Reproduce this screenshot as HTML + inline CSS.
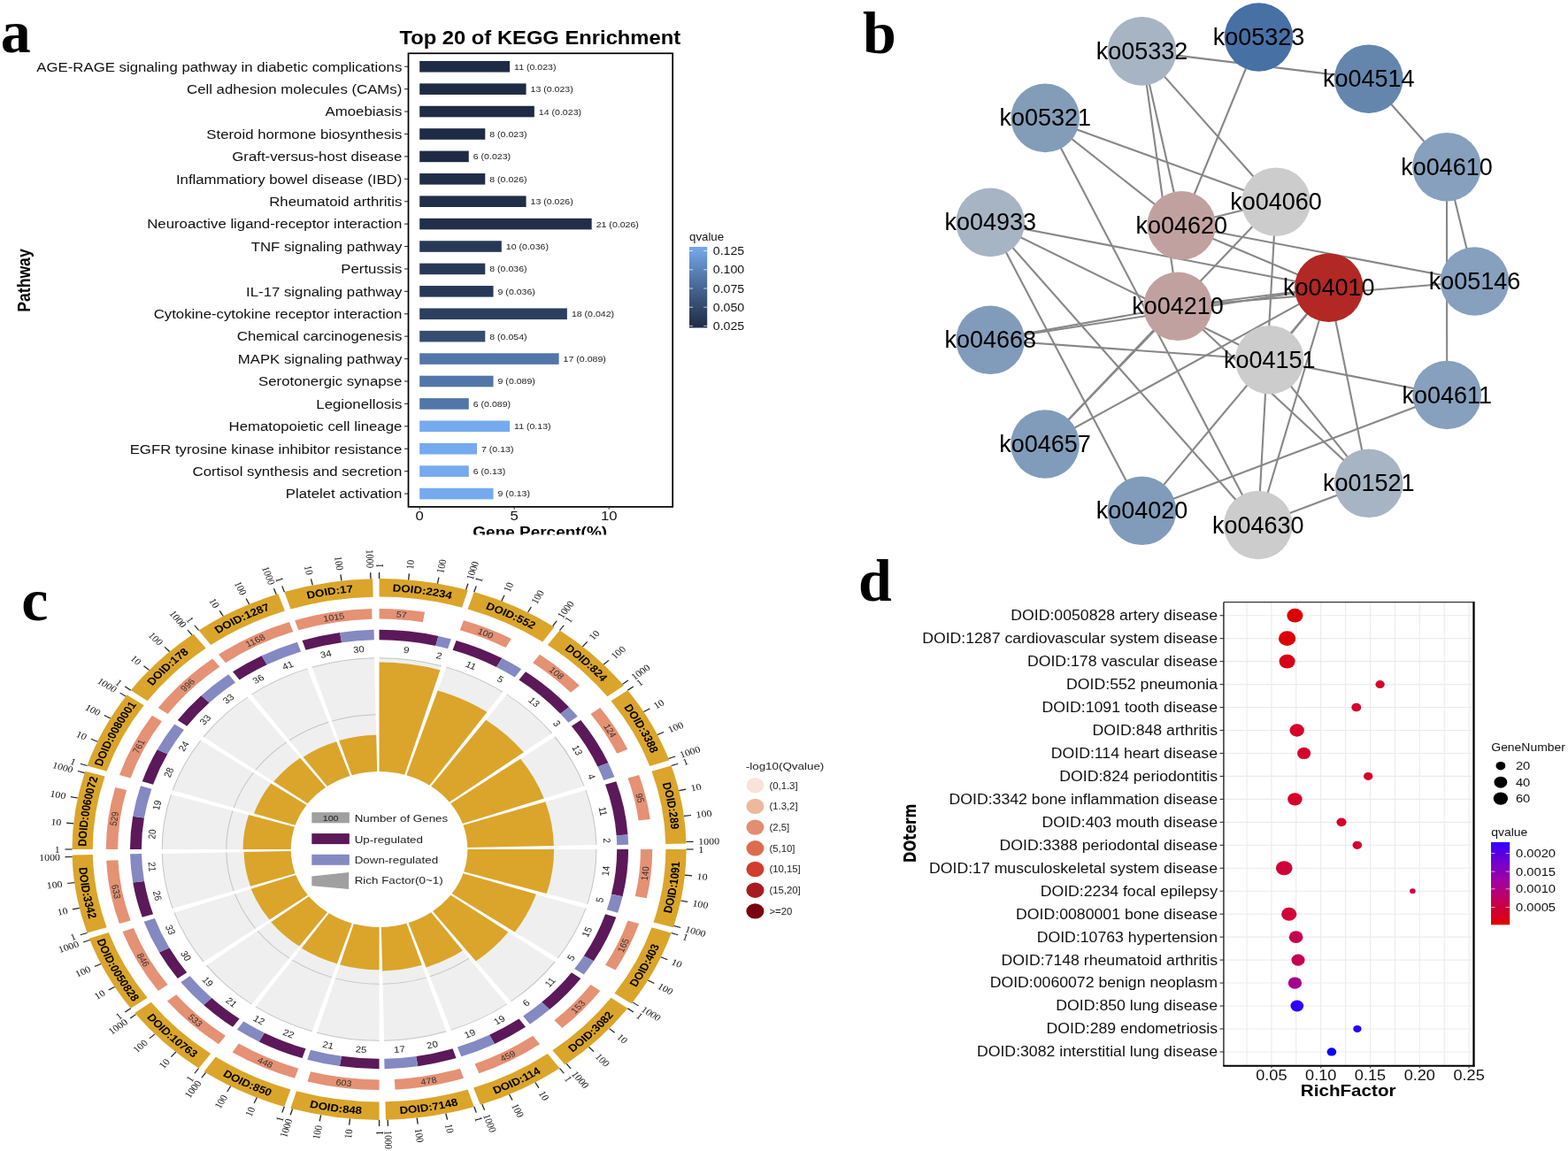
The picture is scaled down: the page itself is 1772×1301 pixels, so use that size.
<!DOCTYPE html>
<html><head><meta charset="utf-8"><title>Figure</title>
<style>html,body{margin:0;padding:0;background:#fff;}svg{display:block;}</style></head>
<body><svg width="1772" height="1301" viewBox="0 0 1772 1301">
<rect width="1772" height="1301" fill="#fff"/>
<text transform="translate(0.8,58.8)" font-size="68" text-anchor="start" font-weight="bold" fill="#000" font-family="'Liberation Serif', 'Times New Roman', serif">a</text>
<text transform="translate(975,59.6)" font-size="68" text-anchor="start" font-weight="bold" fill="#000" font-family="'Liberation Serif', 'Times New Roman', serif">b</text>
<text transform="translate(24.3,701)" font-size="68" text-anchor="start" font-weight="bold" fill="#000" font-family="'Liberation Serif', 'Times New Roman', serif">c</text>
<text transform="translate(970,678.8)" font-size="68" text-anchor="start" font-weight="bold" fill="#000" font-family="'Liberation Serif', 'Times New Roman', serif">d</text>
<text transform="translate(610.3,50.1) scale(1.09,1)" font-size="21.8" text-anchor="middle" font-weight="bold" fill="#000" font-family="'Liberation Sans', Arial, Helvetica, sans-serif">Top 20 of KEGG Enrichment</text>
<rect x="474.2" y="68.95" width="101.86" height="12.6" fill="#1f2b44"/>
<text transform="translate(581.06,78.7) scale(1.08,1)" font-size="9.8" text-anchor="start" fill="#222" font-family="'Liberation Sans', Arial, Helvetica, sans-serif">11 (0.023)</text>
<text transform="translate(454.3,80.55) scale(1.09,1)" font-size="15.4" text-anchor="end" fill="#111" font-family="'Liberation Sans', Arial, Helvetica, sans-serif">AGE-RAGE signaling pathway in diabetic complications</text>
<line x1="457" y1="75.25" x2="461.5" y2="75.25" stroke="#333" stroke-width="1.1"/>
<rect x="474.2" y="94.36" width="120.38" height="12.6" fill="#1f2b44"/>
<text transform="translate(599.58,104.11) scale(1.08,1)" font-size="9.8" text-anchor="start" fill="#222" font-family="'Liberation Sans', Arial, Helvetica, sans-serif">13 (0.023)</text>
<text transform="translate(454.3,105.96) scale(1.09,1)" font-size="15.4" text-anchor="end" fill="#111" font-family="'Liberation Sans', Arial, Helvetica, sans-serif">Cell adhesion molecules (CAMs)</text>
<line x1="457" y1="100.66" x2="461.5" y2="100.66" stroke="#333" stroke-width="1.1"/>
<rect x="474.2" y="119.77" width="129.64" height="12.6" fill="#1f2b44"/>
<text transform="translate(608.84,129.52) scale(1.08,1)" font-size="9.8" text-anchor="start" fill="#222" font-family="'Liberation Sans', Arial, Helvetica, sans-serif">14 (0.023)</text>
<text transform="translate(454.3,131.37) scale(1.09,1)" font-size="15.4" text-anchor="end" fill="#111" font-family="'Liberation Sans', Arial, Helvetica, sans-serif">Amoebiasis</text>
<line x1="457" y1="126.07" x2="461.5" y2="126.07" stroke="#333" stroke-width="1.1"/>
<rect x="474.2" y="145.18" width="74.08" height="12.6" fill="#1f2b44"/>
<text transform="translate(553.28,154.93) scale(1.08,1)" font-size="9.8" text-anchor="start" fill="#222" font-family="'Liberation Sans', Arial, Helvetica, sans-serif">8 (0.023)</text>
<text transform="translate(454.3,156.78) scale(1.09,1)" font-size="15.4" text-anchor="end" fill="#111" font-family="'Liberation Sans', Arial, Helvetica, sans-serif">Steroid hormone biosynthesis</text>
<line x1="457" y1="151.48" x2="461.5" y2="151.48" stroke="#333" stroke-width="1.1"/>
<rect x="474.2" y="170.59" width="55.56" height="12.6" fill="#1f2b44"/>
<text transform="translate(534.76,180.34) scale(1.08,1)" font-size="9.8" text-anchor="start" fill="#222" font-family="'Liberation Sans', Arial, Helvetica, sans-serif">6 (0.023)</text>
<text transform="translate(454.3,182.19) scale(1.09,1)" font-size="15.4" text-anchor="end" fill="#111" font-family="'Liberation Sans', Arial, Helvetica, sans-serif">Graft-versus-host disease</text>
<line x1="457" y1="176.89" x2="461.5" y2="176.89" stroke="#333" stroke-width="1.1"/>
<rect x="474.2" y="196" width="74.08" height="12.6" fill="#212e48"/>
<text transform="translate(553.28,205.75) scale(1.08,1)" font-size="9.8" text-anchor="start" fill="#222" font-family="'Liberation Sans', Arial, Helvetica, sans-serif">8 (0.026)</text>
<text transform="translate(454.3,207.6) scale(1.09,1)" font-size="15.4" text-anchor="end" fill="#111" font-family="'Liberation Sans', Arial, Helvetica, sans-serif">Inflammatiory bowel disease (IBD)</text>
<line x1="457" y1="202.3" x2="461.5" y2="202.3" stroke="#333" stroke-width="1.1"/>
<rect x="474.2" y="221.41" width="120.38" height="12.6" fill="#212e48"/>
<text transform="translate(599.58,231.16) scale(1.08,1)" font-size="9.8" text-anchor="start" fill="#222" font-family="'Liberation Sans', Arial, Helvetica, sans-serif">13 (0.026)</text>
<text transform="translate(454.3,233.01) scale(1.09,1)" font-size="15.4" text-anchor="end" fill="#111" font-family="'Liberation Sans', Arial, Helvetica, sans-serif">Rheumatoid arthritis</text>
<line x1="457" y1="227.71" x2="461.5" y2="227.71" stroke="#333" stroke-width="1.1"/>
<rect x="474.2" y="246.82" width="194.46" height="12.6" fill="#212e48"/>
<text transform="translate(673.66,256.57) scale(1.08,1)" font-size="9.8" text-anchor="start" fill="#222" font-family="'Liberation Sans', Arial, Helvetica, sans-serif">21 (0.026)</text>
<text transform="translate(454.3,258.42) scale(1.09,1)" font-size="15.4" text-anchor="end" fill="#111" font-family="'Liberation Sans', Arial, Helvetica, sans-serif">Neuroactive ligand-receptor interaction</text>
<line x1="457" y1="253.12" x2="461.5" y2="253.12" stroke="#333" stroke-width="1.1"/>
<rect x="474.2" y="272.23" width="92.6" height="12.6" fill="#283957"/>
<text transform="translate(571.8,281.98) scale(1.08,1)" font-size="9.8" text-anchor="start" fill="#222" font-family="'Liberation Sans', Arial, Helvetica, sans-serif">10 (0.036)</text>
<text transform="translate(454.3,283.83) scale(1.09,1)" font-size="15.4" text-anchor="end" fill="#111" font-family="'Liberation Sans', Arial, Helvetica, sans-serif">TNF signaling pathway</text>
<line x1="457" y1="278.53" x2="461.5" y2="278.53" stroke="#333" stroke-width="1.1"/>
<rect x="474.2" y="297.64" width="74.08" height="12.6" fill="#283957"/>
<text transform="translate(553.28,307.39) scale(1.08,1)" font-size="9.8" text-anchor="start" fill="#222" font-family="'Liberation Sans', Arial, Helvetica, sans-serif">8 (0.036)</text>
<text transform="translate(454.3,309.24) scale(1.09,1)" font-size="15.4" text-anchor="end" fill="#111" font-family="'Liberation Sans', Arial, Helvetica, sans-serif">Pertussis</text>
<line x1="457" y1="303.94" x2="461.5" y2="303.94" stroke="#333" stroke-width="1.1"/>
<rect x="474.2" y="323.05" width="83.34" height="12.6" fill="#283957"/>
<text transform="translate(562.54,332.8) scale(1.08,1)" font-size="9.8" text-anchor="start" fill="#222" font-family="'Liberation Sans', Arial, Helvetica, sans-serif">9 (0.036)</text>
<text transform="translate(454.3,334.65) scale(1.09,1)" font-size="15.4" text-anchor="end" fill="#111" font-family="'Liberation Sans', Arial, Helvetica, sans-serif">IL-17 signaling pathway</text>
<line x1="457" y1="329.35" x2="461.5" y2="329.35" stroke="#333" stroke-width="1.1"/>
<rect x="474.2" y="348.46" width="166.68" height="12.6" fill="#2d3f5f"/>
<text transform="translate(645.88,358.21) scale(1.08,1)" font-size="9.8" text-anchor="start" fill="#222" font-family="'Liberation Sans', Arial, Helvetica, sans-serif">18 (0.042)</text>
<text transform="translate(454.3,360.06) scale(1.09,1)" font-size="15.4" text-anchor="end" fill="#111" font-family="'Liberation Sans', Arial, Helvetica, sans-serif">Cytokine-cytokine receptor interaction</text>
<line x1="457" y1="354.76" x2="461.5" y2="354.76" stroke="#333" stroke-width="1.1"/>
<rect x="474.2" y="373.87" width="74.08" height="12.6" fill="#364d71"/>
<text transform="translate(553.28,383.62) scale(1.08,1)" font-size="9.8" text-anchor="start" fill="#222" font-family="'Liberation Sans', Arial, Helvetica, sans-serif">8 (0.054)</text>
<text transform="translate(454.3,385.47) scale(1.09,1)" font-size="15.4" text-anchor="end" fill="#111" font-family="'Liberation Sans', Arial, Helvetica, sans-serif">Chemical carcinogenesis</text>
<line x1="457" y1="380.17" x2="461.5" y2="380.17" stroke="#333" stroke-width="1.1"/>
<rect x="474.2" y="399.28" width="157.42" height="12.6" fill="#5276a9"/>
<text transform="translate(636.62,409.03) scale(1.08,1)" font-size="9.8" text-anchor="start" fill="#222" font-family="'Liberation Sans', Arial, Helvetica, sans-serif">17 (0.089)</text>
<text transform="translate(454.3,410.88) scale(1.09,1)" font-size="15.4" text-anchor="end" fill="#111" font-family="'Liberation Sans', Arial, Helvetica, sans-serif">MAPK signaling pathway</text>
<line x1="457" y1="405.58" x2="461.5" y2="405.58" stroke="#333" stroke-width="1.1"/>
<rect x="474.2" y="424.69" width="83.34" height="12.6" fill="#5276a9"/>
<text transform="translate(562.54,434.44) scale(1.08,1)" font-size="9.8" text-anchor="start" fill="#222" font-family="'Liberation Sans', Arial, Helvetica, sans-serif">9 (0.089)</text>
<text transform="translate(454.3,436.29) scale(1.09,1)" font-size="15.4" text-anchor="end" fill="#111" font-family="'Liberation Sans', Arial, Helvetica, sans-serif">Serotonergic synapse</text>
<line x1="457" y1="430.99" x2="461.5" y2="430.99" stroke="#333" stroke-width="1.1"/>
<rect x="474.2" y="450.1" width="55.56" height="12.6" fill="#5276a9"/>
<text transform="translate(534.76,459.85) scale(1.08,1)" font-size="9.8" text-anchor="start" fill="#222" font-family="'Liberation Sans', Arial, Helvetica, sans-serif">6 (0.089)</text>
<text transform="translate(454.3,461.7) scale(1.09,1)" font-size="15.4" text-anchor="end" fill="#111" font-family="'Liberation Sans', Arial, Helvetica, sans-serif">Legionellosis</text>
<line x1="457" y1="456.4" x2="461.5" y2="456.4" stroke="#333" stroke-width="1.1"/>
<rect x="474.2" y="475.51" width="101.86" height="12.6" fill="#75aaee"/>
<text transform="translate(581.06,485.26) scale(1.08,1)" font-size="9.8" text-anchor="start" fill="#222" font-family="'Liberation Sans', Arial, Helvetica, sans-serif">11 (0.13)</text>
<text transform="translate(454.3,487.11) scale(1.09,1)" font-size="15.4" text-anchor="end" fill="#111" font-family="'Liberation Sans', Arial, Helvetica, sans-serif">Hematopoietic cell lineage</text>
<line x1="457" y1="481.81" x2="461.5" y2="481.81" stroke="#333" stroke-width="1.1"/>
<rect x="474.2" y="500.92" width="64.82" height="12.6" fill="#75aaee"/>
<text transform="translate(544.02,510.67) scale(1.08,1)" font-size="9.8" text-anchor="start" fill="#222" font-family="'Liberation Sans', Arial, Helvetica, sans-serif">7 (0.13)</text>
<text transform="translate(454.3,512.52) scale(1.09,1)" font-size="15.4" text-anchor="end" fill="#111" font-family="'Liberation Sans', Arial, Helvetica, sans-serif">EGFR tyrosine kinase inhibitor resistance</text>
<line x1="457" y1="507.22" x2="461.5" y2="507.22" stroke="#333" stroke-width="1.1"/>
<rect x="474.2" y="526.33" width="55.56" height="12.6" fill="#75aaee"/>
<text transform="translate(534.76,536.08) scale(1.08,1)" font-size="9.8" text-anchor="start" fill="#222" font-family="'Liberation Sans', Arial, Helvetica, sans-serif">6 (0.13)</text>
<text transform="translate(454.3,537.93) scale(1.09,1)" font-size="15.4" text-anchor="end" fill="#111" font-family="'Liberation Sans', Arial, Helvetica, sans-serif">Cortisol synthesis and secretion</text>
<line x1="457" y1="532.63" x2="461.5" y2="532.63" stroke="#333" stroke-width="1.1"/>
<rect x="474.2" y="551.74" width="83.34" height="12.6" fill="#75aaee"/>
<text transform="translate(562.54,561.49) scale(1.08,1)" font-size="9.8" text-anchor="start" fill="#222" font-family="'Liberation Sans', Arial, Helvetica, sans-serif">9 (0.13)</text>
<text transform="translate(454.3,563.34) scale(1.09,1)" font-size="15.4" text-anchor="end" fill="#111" font-family="'Liberation Sans', Arial, Helvetica, sans-serif">Platelet activation</text>
<line x1="457" y1="558.04" x2="461.5" y2="558.04" stroke="#333" stroke-width="1.1"/>
<rect x="461.5" y="60.3" width="298.7" height="512.6" fill="none" stroke="#000" stroke-width="1.7"/>
<line x1="474.2" y1="572.9" x2="474.2" y2="575.7" stroke="#333" stroke-width="1.1"/>
<text transform="translate(474.2,588.4) scale(1.09,1)" font-size="15.3" text-anchor="middle" fill="#111" font-family="'Liberation Sans', Arial, Helvetica, sans-serif">0</text>
<line x1="581.2" y1="572.9" x2="581.2" y2="575.7" stroke="#333" stroke-width="1.1"/>
<text transform="translate(581.2,588.4) scale(1.09,1)" font-size="15.3" text-anchor="middle" fill="#111" font-family="'Liberation Sans', Arial, Helvetica, sans-serif">5</text>
<line x1="688.2" y1="572.9" x2="688.2" y2="575.7" stroke="#333" stroke-width="1.1"/>
<text transform="translate(688.2,588.4) scale(1.09,1)" font-size="15.3" text-anchor="middle" fill="#111" font-family="'Liberation Sans', Arial, Helvetica, sans-serif">10</text>
<clipPath id="clipA"><rect x="400" y="560" width="400" height="44.6"/></clipPath>
<g clip-path="url(#clipA)">
<text transform="translate(610.2,606.5) scale(1.09,1)" font-size="17.4" text-anchor="middle" font-weight="bold" fill="#000" font-family="'Liberation Sans', Arial, Helvetica, sans-serif">Gene Percent(%)</text>
</g>
<text transform="translate(34.4,317) scale(1.14,1) rotate(-90)" font-size="17.6" text-anchor="middle" font-weight="bold" fill="#000" font-family="'Liberation Sans', Arial, Helvetica, sans-serif">Pathway</text>
<defs><linearGradient id="gA" x1="0" y1="1" x2="0" y2="0">
<stop offset="0" stop-color="#1f2b44"/>
<stop offset="0.1" stop-color="#273653"/>
<stop offset="0.2" stop-color="#2f4263"/>
<stop offset="0.3" stop-color="#374e73"/>
<stop offset="0.4" stop-color="#3f5a83"/>
<stop offset="0.5" stop-color="#486794"/>
<stop offset="0.6" stop-color="#5174a6"/>
<stop offset="0.7" stop-color="#5981b7"/>
<stop offset="0.8" stop-color="#638ec9"/>
<stop offset="0.9" stop-color="#6c9cdb"/>
<stop offset="1" stop-color="#75aaee"/>
</linearGradient></defs>
<text transform="translate(779,272) scale(1.09,1)" font-size="12.2" text-anchor="start" fill="#111" font-family="'Liberation Sans', Arial, Helvetica, sans-serif">qvalue</text>
<rect x="779" y="279" width="20.2" height="91.5" fill="url(#gA)"/>
<line x1="779" y1="283.5" x2="783" y2="283.5" stroke="#fff" stroke-opacity="0.8" stroke-width="0.9"/>
<line x1="795.2" y1="283.5" x2="799.2" y2="283.5" stroke="#fff" stroke-opacity="0.8" stroke-width="0.9"/>
<text transform="translate(805.8,288.1) scale(1.09,1)" font-size="13" text-anchor="start" fill="#111" font-family="'Liberation Sans', Arial, Helvetica, sans-serif">0.125</text>
<line x1="779" y1="304.8" x2="783" y2="304.8" stroke="#fff" stroke-opacity="0.8" stroke-width="0.9"/>
<line x1="795.2" y1="304.8" x2="799.2" y2="304.8" stroke="#fff" stroke-opacity="0.8" stroke-width="0.9"/>
<text transform="translate(805.8,309.4) scale(1.09,1)" font-size="13" text-anchor="start" fill="#111" font-family="'Liberation Sans', Arial, Helvetica, sans-serif">0.100</text>
<line x1="779" y1="326" x2="783" y2="326" stroke="#fff" stroke-opacity="0.8" stroke-width="0.9"/>
<line x1="795.2" y1="326" x2="799.2" y2="326" stroke="#fff" stroke-opacity="0.8" stroke-width="0.9"/>
<text transform="translate(805.8,330.6) scale(1.09,1)" font-size="13" text-anchor="start" fill="#111" font-family="'Liberation Sans', Arial, Helvetica, sans-serif">0.075</text>
<line x1="779" y1="347.2" x2="783" y2="347.2" stroke="#fff" stroke-opacity="0.8" stroke-width="0.9"/>
<line x1="795.2" y1="347.2" x2="799.2" y2="347.2" stroke="#fff" stroke-opacity="0.8" stroke-width="0.9"/>
<text transform="translate(805.8,351.8) scale(1.09,1)" font-size="13" text-anchor="start" fill="#111" font-family="'Liberation Sans', Arial, Helvetica, sans-serif">0.050</text>
<line x1="779" y1="368.4" x2="783" y2="368.4" stroke="#fff" stroke-opacity="0.8" stroke-width="0.9"/>
<line x1="795.2" y1="368.4" x2="799.2" y2="368.4" stroke="#fff" stroke-opacity="0.8" stroke-width="0.9"/>
<text transform="translate(805.8,373) scale(1.09,1)" font-size="13" text-anchor="start" fill="#111" font-family="'Liberation Sans', Arial, Helvetica, sans-serif">0.025</text>
<g stroke="#878787" stroke-width="2.1" stroke-linecap="butt">
<line x1="1290.5" y1="57.9" x2="1546.8" y2="89.2"/>
<line x1="1290.5" y1="57.9" x2="1335.2" y2="254.8"/>
<line x1="1290.5" y1="57.9" x2="1331" y2="346.3"/>
<line x1="1290.5" y1="57.9" x2="1442" y2="228.2"/>
<line x1="1422.5" y1="42" x2="1335.2" y2="254.8"/>
<line x1="1546.8" y1="89.2" x2="1635" y2="188.7"/>
<line x1="1635" y1="188.7" x2="1635.2" y2="446.5"/>
<line x1="1635" y1="188.7" x2="1666.5" y2="318"/>
<line x1="1181.2" y1="133.4" x2="1442" y2="228.2"/>
<line x1="1181.2" y1="133.4" x2="1335.2" y2="254.8"/>
<line x1="1181.2" y1="133.4" x2="1421.8" y2="593.5"/>
<line x1="1119.2" y1="251.4" x2="1501.8" y2="325.2"/>
<line x1="1119.2" y1="251.4" x2="1434.8" y2="406.7"/>
<line x1="1119.2" y1="251.4" x2="1421.8" y2="593.5"/>
<line x1="1119.2" y1="251.4" x2="1290.5" y2="577.3"/>
<line x1="1119.2" y1="384.3" x2="1331" y2="346.3"/>
<line x1="1119.2" y1="384.3" x2="1501.8" y2="325.2"/>
<line x1="1119.2" y1="384.3" x2="1434.8" y2="406.7"/>
<line x1="1335.2" y1="254.8" x2="1442" y2="228.2"/>
<line x1="1335.2" y1="254.8" x2="1666.5" y2="318"/>
<line x1="1335.2" y1="254.8" x2="1501.8" y2="325.2"/>
<line x1="1181" y1="502" x2="1442" y2="228.2"/>
<line x1="1181" y1="502" x2="1331" y2="346.3"/>
<line x1="1331" y1="346.3" x2="1501.8" y2="325.2"/>
<line x1="1331" y1="346.3" x2="1546.8" y2="546.3"/>
<line x1="1501.8" y1="325.2" x2="1434.8" y2="406.7"/>
<line x1="1501.8" y1="325.2" x2="1290.5" y2="577.3"/>
<line x1="1331" y1="346.3" x2="1666.5" y2="318"/>
<line x1="1501.8" y1="325.2" x2="1181" y2="502"/>
<line x1="1501.8" y1="325.2" x2="1421.8" y2="593.5"/>
<line x1="1501.8" y1="325.2" x2="1546.8" y2="546.3"/>
<line x1="1442" y1="228.2" x2="1421.8" y2="593.5"/>
<line x1="1434.8" y1="406.7" x2="1635.2" y2="446.5"/>
<line x1="1434.8" y1="406.7" x2="1546.8" y2="546.3"/>
<line x1="1290.5" y1="577.3" x2="1635.2" y2="446.5"/>
<line x1="1421.8" y1="593.5" x2="1546.8" y2="546.3"/>
</g>
<circle cx="1290.5" cy="57.9" r="38.8" fill="#a7b4c3"/>
<circle cx="1422.5" cy="42" r="38.8" fill="#4770a5"/>
<circle cx="1546.8" cy="89.2" r="38.8" fill="#6486ad"/>
<circle cx="1181.2" cy="133.4" r="38.8" fill="#839db8"/>
<circle cx="1635" cy="188.7" r="38.8" fill="#86a0bd"/>
<circle cx="1442" cy="228.2" r="38.8" fill="#cccccc"/>
<circle cx="1119.2" cy="251.4" r="38.8" fill="#a7b4c3"/>
<circle cx="1335.2" cy="254.8" r="38.8" fill="#c1a1a0"/>
<circle cx="1501.8" cy="325.2" r="38.8" fill="#b22824"/>
<circle cx="1666.5" cy="318" r="38.8" fill="#86a0bd"/>
<circle cx="1331" cy="346.3" r="38.8" fill="#c1a1a0"/>
<circle cx="1119.2" cy="384.3" r="38.8" fill="#819cba"/>
<circle cx="1434.8" cy="406.7" r="38.8" fill="#cccccc"/>
<circle cx="1635.2" cy="446.5" r="38.8" fill="#86a0bd"/>
<circle cx="1181" cy="502" r="38.8" fill="#819cba"/>
<circle cx="1546.8" cy="546.3" r="38.8" fill="#a7b4c3"/>
<circle cx="1290.5" cy="577.3" r="38.8" fill="#819cba"/>
<circle cx="1421.8" cy="593.5" r="38.8" fill="#cccccc"/>
<text transform="translate(1290.5,66.9)" font-size="27" text-anchor="middle" fill="#000" font-family="'Liberation Sans', Arial, Helvetica, sans-serif">ko05332</text>
<text transform="translate(1422.5,51)" font-size="27" text-anchor="middle" fill="#000" font-family="'Liberation Sans', Arial, Helvetica, sans-serif">ko05323</text>
<text transform="translate(1546.8,98.2)" font-size="27" text-anchor="middle" fill="#000" font-family="'Liberation Sans', Arial, Helvetica, sans-serif">ko04514</text>
<text transform="translate(1181.2,142.4)" font-size="27" text-anchor="middle" fill="#000" font-family="'Liberation Sans', Arial, Helvetica, sans-serif">ko05321</text>
<text transform="translate(1635,197.7)" font-size="27" text-anchor="middle" fill="#000" font-family="'Liberation Sans', Arial, Helvetica, sans-serif">ko04610</text>
<text transform="translate(1442,237.2)" font-size="27" text-anchor="middle" fill="#000" font-family="'Liberation Sans', Arial, Helvetica, sans-serif">ko04060</text>
<text transform="translate(1119.2,260.4)" font-size="27" text-anchor="middle" fill="#000" font-family="'Liberation Sans', Arial, Helvetica, sans-serif">ko04933</text>
<text transform="translate(1335.2,263.8)" font-size="27" text-anchor="middle" fill="#000" font-family="'Liberation Sans', Arial, Helvetica, sans-serif">ko04620</text>
<text transform="translate(1501.8,334.2)" font-size="27" text-anchor="middle" fill="#000" font-family="'Liberation Sans', Arial, Helvetica, sans-serif">ko04010</text>
<text transform="translate(1666.5,327)" font-size="27" text-anchor="middle" fill="#000" font-family="'Liberation Sans', Arial, Helvetica, sans-serif">ko05146</text>
<text transform="translate(1331,355.3)" font-size="27" text-anchor="middle" fill="#000" font-family="'Liberation Sans', Arial, Helvetica, sans-serif">ko04210</text>
<text transform="translate(1119.2,393.3)" font-size="27" text-anchor="middle" fill="#000" font-family="'Liberation Sans', Arial, Helvetica, sans-serif">ko04668</text>
<text transform="translate(1434.8,415.7)" font-size="27" text-anchor="middle" fill="#000" font-family="'Liberation Sans', Arial, Helvetica, sans-serif">ko04151</text>
<text transform="translate(1635.2,455.5)" font-size="27" text-anchor="middle" fill="#000" font-family="'Liberation Sans', Arial, Helvetica, sans-serif">ko04611</text>
<text transform="translate(1181,511)" font-size="27" text-anchor="middle" fill="#000" font-family="'Liberation Sans', Arial, Helvetica, sans-serif">ko04657</text>
<text transform="translate(1546.8,555.3)" font-size="27" text-anchor="middle" fill="#000" font-family="'Liberation Sans', Arial, Helvetica, sans-serif">ko01521</text>
<text transform="translate(1290.5,586.3)" font-size="27" text-anchor="middle" fill="#000" font-family="'Liberation Sans', Arial, Helvetica, sans-serif">ko04020</text>
<text transform="translate(1421.8,602.5)" font-size="27" text-anchor="middle" fill="#000" font-family="'Liberation Sans', Arial, Helvetica, sans-serif">ko04630</text>
<g stroke="#ebebeb" stroke-width="1.1">
<line x1="1409" y1="680.7" x2="1409" y2="1204.5"/>
<line x1="1436.9" y1="680.7" x2="1436.9" y2="1204.5"/>
<line x1="1464.8" y1="680.7" x2="1464.8" y2="1204.5"/>
<line x1="1492.7" y1="680.7" x2="1492.7" y2="1204.5"/>
<line x1="1520.6" y1="680.7" x2="1520.6" y2="1204.5"/>
<line x1="1548.5" y1="680.7" x2="1548.5" y2="1204.5"/>
<line x1="1576.4" y1="680.7" x2="1576.4" y2="1204.5"/>
<line x1="1604.3" y1="680.7" x2="1604.3" y2="1204.5"/>
<line x1="1632.2" y1="680.7" x2="1632.2" y2="1204.5"/>
<line x1="1660.1" y1="680.7" x2="1660.1" y2="1204.5"/>
<line x1="1382.9" y1="695.7" x2="1663" y2="695.7"/>
<line x1="1382.9" y1="721.66" x2="1663" y2="721.66"/>
<line x1="1382.9" y1="747.62" x2="1663" y2="747.62"/>
<line x1="1382.9" y1="773.58" x2="1663" y2="773.58"/>
<line x1="1382.9" y1="799.54" x2="1663" y2="799.54"/>
<line x1="1382.9" y1="825.5" x2="1663" y2="825.5"/>
<line x1="1382.9" y1="851.46" x2="1663" y2="851.46"/>
<line x1="1382.9" y1="877.42" x2="1663" y2="877.42"/>
<line x1="1382.9" y1="903.38" x2="1663" y2="903.38"/>
<line x1="1382.9" y1="929.34" x2="1663" y2="929.34"/>
<line x1="1382.9" y1="955.3" x2="1663" y2="955.3"/>
<line x1="1382.9" y1="981.26" x2="1663" y2="981.26"/>
<line x1="1382.9" y1="1007.22" x2="1663" y2="1007.22"/>
<line x1="1382.9" y1="1033.18" x2="1663" y2="1033.18"/>
<line x1="1382.9" y1="1059.14" x2="1663" y2="1059.14"/>
<line x1="1382.9" y1="1085.1" x2="1663" y2="1085.1"/>
<line x1="1382.9" y1="1111.06" x2="1663" y2="1111.06"/>
<line x1="1382.9" y1="1137.02" x2="1663" y2="1137.02"/>
<line x1="1382.9" y1="1162.98" x2="1663" y2="1162.98"/>
<line x1="1382.9" y1="1188.94" x2="1663" y2="1188.94"/>
</g>
<ellipse cx="1463.4" cy="695.7" rx="9.0275" ry="7.85" fill="#dd0000"/>
<text transform="translate(1376,701.1) scale(1.134,1)" font-size="15.6" text-anchor="end" fill="#111" font-family="'Liberation Sans', Arial, Helvetica, sans-serif">DOID:0050828 artery disease</text>
<line x1="1378.5" y1="695.7" x2="1382.9" y2="695.7" stroke="#333" stroke-width="1.1"/>
<ellipse cx="1454.6" cy="721.66" rx="9.66" ry="8.4" fill="#db0008"/>
<text transform="translate(1376,727.06) scale(1.134,1)" font-size="15.6" text-anchor="end" fill="#111" font-family="'Liberation Sans', Arial, Helvetica, sans-serif">DOID:1287 cardiovascular system disease</text>
<line x1="1378.5" y1="721.66" x2="1382.9" y2="721.66" stroke="#333" stroke-width="1.1"/>
<ellipse cx="1454.6" cy="747.62" rx="9.0275" ry="7.85" fill="#d80018"/>
<text transform="translate(1376,753.02) scale(1.134,1)" font-size="15.6" text-anchor="end" fill="#111" font-family="'Liberation Sans', Arial, Helvetica, sans-serif">DOID:178 vascular disease</text>
<line x1="1378.5" y1="747.62" x2="1382.9" y2="747.62" stroke="#333" stroke-width="1.1"/>
<ellipse cx="1559.6" cy="773.58" rx="5.175" ry="4.5" fill="#d6002a"/>
<text transform="translate(1376,778.98) scale(1.134,1)" font-size="15.6" text-anchor="end" fill="#111" font-family="'Liberation Sans', Arial, Helvetica, sans-serif">DOID:552 pneumonia</text>
<line x1="1378.5" y1="773.58" x2="1382.9" y2="773.58" stroke="#333" stroke-width="1.1"/>
<ellipse cx="1532.8" cy="799.54" rx="5.4625" ry="4.75" fill="#d6002a"/>
<text transform="translate(1376,804.94) scale(1.134,1)" font-size="15.6" text-anchor="end" fill="#111" font-family="'Liberation Sans', Arial, Helvetica, sans-serif">DOID:1091 tooth disease</text>
<line x1="1378.5" y1="799.54" x2="1382.9" y2="799.54" stroke="#333" stroke-width="1.1"/>
<ellipse cx="1465.7" cy="825.5" rx="8.2225" ry="7.15" fill="#d6002a"/>
<text transform="translate(1376,830.9) scale(1.134,1)" font-size="15.6" text-anchor="end" fill="#111" font-family="'Liberation Sans', Arial, Helvetica, sans-serif">DOID:848 arthritis</text>
<line x1="1378.5" y1="825.5" x2="1382.9" y2="825.5" stroke="#333" stroke-width="1.1"/>
<ellipse cx="1473.6" cy="851.46" rx="7.59" ry="6.6" fill="#d6002a"/>
<text transform="translate(1376,856.86) scale(1.134,1)" font-size="15.6" text-anchor="end" fill="#111" font-family="'Liberation Sans', Arial, Helvetica, sans-serif">DOID:114 heart disease</text>
<line x1="1378.5" y1="851.46" x2="1382.9" y2="851.46" stroke="#333" stroke-width="1.1"/>
<ellipse cx="1546.2" cy="877.42" rx="5.175" ry="4.5" fill="#d6002a"/>
<text transform="translate(1376,882.82) scale(1.134,1)" font-size="15.6" text-anchor="end" fill="#111" font-family="'Liberation Sans', Arial, Helvetica, sans-serif">DOID:824 periodontitis</text>
<line x1="1378.5" y1="877.42" x2="1382.9" y2="877.42" stroke="#333" stroke-width="1.1"/>
<ellipse cx="1463.4" cy="903.38" rx="8.2225" ry="7.15" fill="#d6002a"/>
<text transform="translate(1376,908.78) scale(1.134,1)" font-size="15.6" text-anchor="end" fill="#111" font-family="'Liberation Sans', Arial, Helvetica, sans-serif">DOID:3342 bone inflammation disease</text>
<line x1="1378.5" y1="903.38" x2="1382.9" y2="903.38" stroke="#333" stroke-width="1.1"/>
<ellipse cx="1516" cy="929.34" rx="5.5775" ry="4.85" fill="#d6002a"/>
<text transform="translate(1376,934.74) scale(1.134,1)" font-size="15.6" text-anchor="end" fill="#111" font-family="'Liberation Sans', Arial, Helvetica, sans-serif">DOID:403 mouth disease</text>
<line x1="1378.5" y1="929.34" x2="1382.9" y2="929.34" stroke="#333" stroke-width="1.1"/>
<ellipse cx="1533.8" cy="955.3" rx="5.29" ry="4.6" fill="#d50030"/>
<text transform="translate(1376,960.7) scale(1.134,1)" font-size="15.6" text-anchor="end" fill="#111" font-family="'Liberation Sans', Arial, Helvetica, sans-serif">DOID:3388 periodontal disease</text>
<line x1="1378.5" y1="955.3" x2="1382.9" y2="955.3" stroke="#333" stroke-width="1.1"/>
<ellipse cx="1451.2" cy="981.26" rx="9.315" ry="8.1" fill="#d00038"/>
<text transform="translate(1376,986.66) scale(1.134,1)" font-size="15.6" text-anchor="end" fill="#111" font-family="'Liberation Sans', Arial, Helvetica, sans-serif">DOID:17 musculoskeletal system disease</text>
<line x1="1378.5" y1="981.26" x2="1382.9" y2="981.26" stroke="#333" stroke-width="1.1"/>
<ellipse cx="1596.4" cy="1007.22" rx="3.2775" ry="2.85" fill="#d0003a"/>
<text transform="translate(1376,1012.62) scale(1.134,1)" font-size="15.6" text-anchor="end" fill="#111" font-family="'Liberation Sans', Arial, Helvetica, sans-serif">DOID:2234 focal epilepsy</text>
<line x1="1378.5" y1="1007.22" x2="1382.9" y2="1007.22" stroke="#333" stroke-width="1.1"/>
<ellipse cx="1456.7" cy="1033.18" rx="8.625" ry="7.5" fill="#d2003a"/>
<text transform="translate(1376,1038.58) scale(1.134,1)" font-size="15.6" text-anchor="end" fill="#111" font-family="'Liberation Sans', Arial, Helvetica, sans-serif">DOID:0080001 bone disease</text>
<line x1="1378.5" y1="1033.18" x2="1382.9" y2="1033.18" stroke="#333" stroke-width="1.1"/>
<ellipse cx="1464.6" cy="1059.14" rx="7.82" ry="6.8" fill="#c4004c"/>
<text transform="translate(1376,1064.54) scale(1.134,1)" font-size="15.6" text-anchor="end" fill="#111" font-family="'Liberation Sans', Arial, Helvetica, sans-serif">DOID:10763 hypertension</text>
<line x1="1378.5" y1="1059.14" x2="1382.9" y2="1059.14" stroke="#333" stroke-width="1.1"/>
<ellipse cx="1467" cy="1085.1" rx="7.5325" ry="6.55" fill="#c40050"/>
<text transform="translate(1376,1090.5) scale(1.134,1)" font-size="15.6" text-anchor="end" fill="#111" font-family="'Liberation Sans', Arial, Helvetica, sans-serif">DOID:7148 rheumatoid arthritis</text>
<line x1="1378.5" y1="1085.1" x2="1382.9" y2="1085.1" stroke="#333" stroke-width="1.1"/>
<ellipse cx="1463.4" cy="1111.06" rx="7.6475" ry="6.65" fill="#a4008c"/>
<text transform="translate(1376,1116.46) scale(1.134,1)" font-size="15.6" text-anchor="end" fill="#111" font-family="'Liberation Sans', Arial, Helvetica, sans-serif">DOID:0060072 benign neoplasm</text>
<line x1="1378.5" y1="1111.06" x2="1382.9" y2="1111.06" stroke="#333" stroke-width="1.1"/>
<ellipse cx="1465.8" cy="1137.02" rx="7.36" ry="6.4" fill="#3000f8"/>
<text transform="translate(1376,1142.42) scale(1.134,1)" font-size="15.6" text-anchor="end" fill="#111" font-family="'Liberation Sans', Arial, Helvetica, sans-serif">DOID:850 lung disease</text>
<line x1="1378.5" y1="1137.02" x2="1382.9" y2="1137.02" stroke="#333" stroke-width="1.1"/>
<ellipse cx="1533.9" cy="1162.98" rx="4.6575" ry="4.05" fill="#2a00f6"/>
<text transform="translate(1376,1168.38) scale(1.134,1)" font-size="15.6" text-anchor="end" fill="#111" font-family="'Liberation Sans', Arial, Helvetica, sans-serif">DOID:289 endometriosis</text>
<line x1="1378.5" y1="1162.98" x2="1382.9" y2="1162.98" stroke="#333" stroke-width="1.1"/>
<ellipse cx="1504.9" cy="1188.94" rx="5.3475" ry="4.65" fill="#1000f5"/>
<text transform="translate(1376,1194.34) scale(1.134,1)" font-size="15.6" text-anchor="end" fill="#111" font-family="'Liberation Sans', Arial, Helvetica, sans-serif">DOID:3082 interstitial lung disease</text>
<line x1="1378.5" y1="1188.94" x2="1382.9" y2="1188.94" stroke="#333" stroke-width="1.1"/>
<line x1="1382.9" y1="680.7" x2="1665.5" y2="680.7" stroke="#333" stroke-width="1.3"/>
<line x1="1382.9" y1="680.7" x2="1382.9" y2="1204.5" stroke="#222" stroke-width="1.4"/>
<line x1="1665.5" y1="680.1" x2="1665.5" y2="1205.5" stroke="#000" stroke-width="2.3"/>
<line x1="1382.2" y1="1204.7" x2="1666.5" y2="1204.7" stroke="#000" stroke-width="2.0"/>
<line x1="1436.9" y1="1204.5" x2="1436.9" y2="1207.3" stroke="#333" stroke-width="1.1"/>
<text transform="translate(1436.9,1221.3) scale(1.134,1)" font-size="16" text-anchor="middle" fill="#111" font-family="'Liberation Sans', Arial, Helvetica, sans-serif">0.05</text>
<line x1="1492.7" y1="1204.5" x2="1492.7" y2="1207.3" stroke="#333" stroke-width="1.1"/>
<text transform="translate(1492.7,1221.3) scale(1.134,1)" font-size="16" text-anchor="middle" fill="#111" font-family="'Liberation Sans', Arial, Helvetica, sans-serif">0.10</text>
<line x1="1548.5" y1="1204.5" x2="1548.5" y2="1207.3" stroke="#333" stroke-width="1.1"/>
<text transform="translate(1548.5,1221.3) scale(1.134,1)" font-size="16" text-anchor="middle" fill="#111" font-family="'Liberation Sans', Arial, Helvetica, sans-serif">0.15</text>
<line x1="1604.3" y1="1204.5" x2="1604.3" y2="1207.3" stroke="#333" stroke-width="1.1"/>
<text transform="translate(1604.3,1221.3) scale(1.134,1)" font-size="16" text-anchor="middle" fill="#111" font-family="'Liberation Sans', Arial, Helvetica, sans-serif">0.20</text>
<line x1="1660.1" y1="1204.5" x2="1660.1" y2="1207.3" stroke="#333" stroke-width="1.1"/>
<text transform="translate(1660.1,1221.3) scale(1.134,1)" font-size="16" text-anchor="middle" fill="#111" font-family="'Liberation Sans', Arial, Helvetica, sans-serif">0.25</text>
<text transform="translate(1523.7,1238.9) scale(1.134,1)" font-size="18.2" text-anchor="middle" font-weight="bold" fill="#000" font-family="'Liberation Sans', Arial, Helvetica, sans-serif">RichFactor</text>
<text transform="translate(1034.6,941.9) scale(1.1,1) rotate(-90)" font-size="17" text-anchor="middle" font-weight="bold" fill="#000" font-family="'DejaVu Sans Condensed', 'DejaVu Sans', sans-serif">DOterm</text>
<text transform="translate(1685.3,849) scale(1.134,1)" font-size="12.3" text-anchor="start" fill="#111" font-family="'Liberation Sans', Arial, Helvetica, sans-serif">GeneNumber</text>
<ellipse cx="1695.9" cy="865.7" rx="5.3865" ry="4.75" fill="#000"/>
<text transform="translate(1712.9,870.3) scale(1.134,1)" font-size="13" text-anchor="start" fill="#111" font-family="'Liberation Sans', Arial, Helvetica, sans-serif">20</text>
<ellipse cx="1695.9" cy="884.2" rx="7.371" ry="6.5" fill="#000"/>
<text transform="translate(1712.9,888.8) scale(1.134,1)" font-size="13" text-anchor="start" fill="#111" font-family="'Liberation Sans', Arial, Helvetica, sans-serif">40</text>
<ellipse cx="1695.9" cy="902.6" rx="8.1648" ry="7.2" fill="#000"/>
<text transform="translate(1712.9,907.2) scale(1.134,1)" font-size="13" text-anchor="start" fill="#111" font-family="'Liberation Sans', Arial, Helvetica, sans-serif">60</text>
<text transform="translate(1685.3,944.8) scale(1.134,1)" font-size="12.3" text-anchor="start" fill="#111" font-family="'Liberation Sans', Arial, Helvetica, sans-serif">qvalue</text>
<defs><linearGradient id="gD" x1="0" y1="1" x2="0" y2="0"><stop offset="0" stop-color="#e00000"/><stop offset="0.25" stop-color="#c8004a"/><stop offset="0.5" stop-color="#a5009a"/><stop offset="0.75" stop-color="#7400cc"/><stop offset="1" stop-color="#3300ff"/></linearGradient></defs>
<rect x="1685" y="951.9" width="21.2" height="93.4" fill="url(#gD)"/>
<line x1="1685" y1="964.5" x2="1689.5" y2="964.5" stroke="#fff" stroke-opacity="0.7" stroke-width="0.9"/>
<line x1="1701.7" y1="964.5" x2="1706.2" y2="964.5" stroke="#fff" stroke-opacity="0.7" stroke-width="0.9"/>
<text transform="translate(1713,969.1) scale(1.134,1)" font-size="13" text-anchor="start" fill="#111" font-family="'Liberation Sans', Arial, Helvetica, sans-serif">0.0020</text>
<line x1="1685" y1="985.1" x2="1689.5" y2="985.1" stroke="#fff" stroke-opacity="0.7" stroke-width="0.9"/>
<line x1="1701.7" y1="985.1" x2="1706.2" y2="985.1" stroke="#fff" stroke-opacity="0.7" stroke-width="0.9"/>
<text transform="translate(1713,989.7) scale(1.134,1)" font-size="13" text-anchor="start" fill="#111" font-family="'Liberation Sans', Arial, Helvetica, sans-serif">0.0015</text>
<line x1="1685" y1="1004.8" x2="1689.5" y2="1004.8" stroke="#fff" stroke-opacity="0.7" stroke-width="0.9"/>
<line x1="1701.7" y1="1004.8" x2="1706.2" y2="1004.8" stroke="#fff" stroke-opacity="0.7" stroke-width="0.9"/>
<text transform="translate(1713,1009.4) scale(1.134,1)" font-size="13" text-anchor="start" fill="#111" font-family="'Liberation Sans', Arial, Helvetica, sans-serif">0.0010</text>
<line x1="1685" y1="1025.5" x2="1689.5" y2="1025.5" stroke="#fff" stroke-opacity="0.7" stroke-width="0.9"/>
<line x1="1701.7" y1="1025.5" x2="1706.2" y2="1025.5" stroke="#fff" stroke-opacity="0.7" stroke-width="0.9"/>
<text transform="translate(1713,1030.1) scale(1.134,1)" font-size="13" text-anchor="start" fill="#111" font-family="'Liberation Sans', Arial, Helvetica, sans-serif">0.0005</text>
<g transform="translate(428.55,960) scale(1.1345,1)">
<path d="M0 -305.9A305.9 305.9 0 0 1 88.3126 -292.8749L82.3943 -273.2478A285.4 285.4 0 0 0 0 -285.4Z" fill="#daa52a"/>
<line x1="0" y1="-305.9" x2="0" y2="-313" stroke="#222" stroke-width="1.15"/>
<text transform="translate(0,-318) rotate(-90)" y="3.6" font-size="10.5" text-anchor="start" fill="#111" font-family="'Liberation Serif', 'Times New Roman', serif">1</text>
<line x1="29.1617" y1="-304.5068" x2="29.8385" y2="-311.5745" stroke="#222" stroke-width="1.15"/>
<text transform="translate(30.3152,-316.5517) rotate(-84.5296)" y="3.6" font-size="10.5" text-anchor="start" fill="#111" font-family="'Liberation Serif', 'Times New Roman', serif">10</text>
<line x1="58.0577" y1="-300.34" x2="59.4052" y2="-307.3109" stroke="#222" stroke-width="1.15"/>
<text transform="translate(60.3542,-312.2201) rotate(-79.0593)" y="3.6" font-size="10.5" text-anchor="start" fill="#111" font-family="'Liberation Serif', 'Times New Roman', serif">100</text>
<line x1="86.4249" y1="-293.4375" x2="88.4309" y2="-300.2482" stroke="#222" stroke-width="1.15"/>
<text transform="translate(89.8435,-305.0445) rotate(-73.5889)" y="3.6" font-size="10.5" text-anchor="start" fill="#111" font-family="'Liberation Serif', 'Times New Roman', serif">1000</text>
<path id="lp1" d="M-40.5968 -288.8612A291.7 291.7 0 0 1 122.2617 -264.8414" fill="none"/>
<text font-size="11.7" font-weight="bold" fill="#000" font-family="'Liberation Sans', Arial, Helvetica, sans-serif" text-anchor="middle"><textPath href="#lp1" startOffset="50%">DOID:2234</textPath></text>
<path d="M0 -272.1A272.1 272.1 0 0 1 45.4024 -268.2854L43.4501 -256.7494A260.4 260.4 0 0 0 0 -260.4Z" fill="#e59174"/>
<text transform="translate(22.2914,-265.3152) rotate(4.8026)" y="3.325" font-size="9.5" text-anchor="middle" fill="#333" font-family="'Liberation Sans', Arial, Helvetica, sans-serif">57</text>
<path d="M0 -248.2A248.2 248.2 0 0 1 58.9057 -241.1086L56.2001 -230.0343A236.8 236.8 0 0 0 0 -236.8Z" fill="#5b1959"/>
<path d="M58.9057 -241.1086A248.2 248.2 0 0 1 71.6547 -237.6317L68.3636 -226.7171A236.8 236.8 0 0 0 56.2001 -230.0343Z" fill="#8489c2"/>
<text transform="translate(27.1316,-225.3727) rotate(6.8645)" y="3.5" font-size="10" text-anchor="middle" fill="#222" font-family="'Liberation Sans', Arial, Helvetica, sans-serif">9</text>
<text transform="translate(59.7255,-219.002) rotate(15.2545)" y="3.5" font-size="10" text-anchor="middle" fill="#222" font-family="'Liberation Sans', Arial, Helvetica, sans-serif">2</text>
<path d="M0 -216.3A216.3 216.3 0 0 1 62.0838 -207.1987L25.2583 -84.2972A88 88 0 0 0 0 -88Z" fill="#efefef"/>
<path d="M0 -152.3A152.3 152.3 0 0 1 43.7141 -145.8916" fill="none" stroke="#c4c4c4" stroke-width="0.9"/>
<path d="M0 -216.3A216.3 216.3 0 0 1 62.0838 -207.1987" fill="none" stroke="#c4c4c4" stroke-width="0.9"/>
<path d="M0 -211.52A211.52 211.52 0 0 1 60.7118 -202.6198L25.2583 -84.2972A88 88 0 0 0 0 -88Z" fill="#daa52a"/>
<path d="M94.5283 -290.9282A305.9 305.9 0 0 1 174.4936 -251.2505L162.7998 -234.4128A285.4 285.4 0 0 0 88.1935 -271.4315Z" fill="#daa52a"/>
<line x1="94.5283" y1="-290.9282" x2="96.7223" y2="-297.6807" stroke="#222" stroke-width="1.15"/>
<text transform="translate(98.2674,-302.436) rotate(-72)" y="3.6" font-size="10.5" text-anchor="start" fill="#111" font-family="'Liberation Serif', 'Times New Roman', serif">1</text>
<line x1="121.8322" y1="-280.5918" x2="124.6599" y2="-287.1043" stroke="#222" stroke-width="1.15"/>
<text transform="translate(126.6513,-291.6907) rotate(-66.5296)" y="3.6" font-size="10.5" text-anchor="start" fill="#111" font-family="'Liberation Serif', 'Times New Roman', serif">10</text>
<line x1="148.0263" y1="-267.6995" x2="151.462" y2="-273.9129" stroke="#222" stroke-width="1.15"/>
<text transform="translate(153.8816,-278.2885) rotate(-61.0593)" y="3.6" font-size="10.5" text-anchor="start" fill="#111" font-family="'Liberation Serif', 'Times New Roman', serif">100</text>
<line x1="172.8721" y1="-252.3688" x2="176.8845" y2="-258.2264" stroke="#222" stroke-width="1.15"/>
<text transform="translate(179.7102,-262.3514) rotate(-55.5889)" y="3.6" font-size="10.5" text-anchor="start" fill="#111" font-family="'Liberation Serif', 'Times New Roman', serif">1000</text>
<path id="lp2" d="M50.6532 -287.2684A291.7 291.7 0 0 1 198.1183 -214.0982" fill="none"/>
<text font-size="11.7" font-weight="bold" fill="#000" font-family="'Liberation Sans', Arial, Helvetica, sans-serif" text-anchor="middle"><textPath href="#lp2" startOffset="50%">DOID:552</textPath></text>
<path d="M84.0835 -258.7825A272.1 272.1 0 0 1 131.6704 -238.1204L126.0087 -227.8815A260.4 260.4 0 0 0 80.468 -247.6551Z" fill="#e59174"/>
<text transform="translate(106.0406,-244.2221) rotate(23.4704)" y="3.325" font-size="9.5" text-anchor="middle" fill="#333" font-family="'Liberation Sans', Arial, Helvetica, sans-serif">100</text>
<path d="M76.698 -236.0522A248.2 248.2 0 0 1 122.3562 -215.9449L116.7363 -206.0264A236.8 236.8 0 0 0 73.1752 -225.2102Z" fill="#5b1959"/>
<path d="M122.3562 -215.9449A248.2 248.2 0 0 1 141.58 -203.8587L135.0771 -194.4953A236.8 236.8 0 0 0 116.7363 -206.0264Z" fill="#8489c2"/>
<text transform="translate(91.4892,-207.7468) rotate(23.7681)" y="3.5" font-size="10" text-anchor="middle" fill="#222" font-family="'Liberation Sans', Arial, Helvetica, sans-serif">11</text>
<text transform="translate(120.8225,-192.1742) rotate(32.1581)" y="3.5" font-size="10" text-anchor="middle" fill="#222" font-family="'Liberation Sans', Arial, Helvetica, sans-serif">5</text>
<path d="M66.8404 -205.7135A216.3 216.3 0 0 1 123.0731 -177.8727L50.0713 -72.3662A88 88 0 0 0 27.1935 -83.693Z" fill="#efefef"/>
<path d="M47.0633 -144.8459A152.3 152.3 0 0 1 86.6576 -125.2428" fill="none" stroke="#c4c4c4" stroke-width="0.9"/>
<path d="M66.8404 -205.7135A216.3 216.3 0 0 1 123.0731 -177.8727" fill="none" stroke="#c4c4c4" stroke-width="0.9"/>
<path d="M58.3226 -179.4986A188.736 188.736 0 0 1 107.3894 -155.2057L50.0713 -72.3662A88 88 0 0 0 27.1935 -83.693Z" fill="#daa52a"/>
<path d="M179.8035 -247.4783A305.9 305.9 0 0 1 243.5939 -185.0319L227.2694 -172.6319A285.4 285.4 0 0 0 167.7539 -230.8935Z" fill="#daa52a"/>
<line x1="179.8035" y1="-247.4783" x2="183.9768" y2="-253.2223" stroke="#222" stroke-width="1.15"/>
<text transform="translate(186.9157,-257.2674) rotate(-54)" y="3.6" font-size="10.5" text-anchor="start" fill="#111" font-family="'Liberation Serif', 'Times New Roman', serif">1</text>
<line x1="202.5769" y1="-229.2104" x2="207.2788" y2="-234.5304" stroke="#222" stroke-width="1.15"/>
<text transform="translate(210.5899,-238.2769) rotate(-48.5296)" y="3.6" font-size="10.5" text-anchor="start" fill="#111" font-family="'Liberation Serif', 'Times New Roman', serif">10</text>
<line x1="223.5051" y1="-208.8547" x2="228.6927" y2="-213.7023" stroke="#222" stroke-width="1.15"/>
<text transform="translate(232.3459,-217.116) rotate(-43.0593)" y="3.6" font-size="10.5" text-anchor="start" fill="#111" font-family="'Liberation Serif', 'Times New Roman', serif">100</text>
<line x1="242.3974" y1="-186.5966" x2="248.0235" y2="-190.9275" stroke="#222" stroke-width="1.15"/>
<text transform="translate(251.9856,-193.9775) rotate(-37.5889)" y="3.6" font-size="10.5" text-anchor="start" fill="#111" font-family="'Liberation Serif', 'Times New Roman', serif">1000</text>
<path id="lp3" d="M136.9449 -257.5558A291.7 291.7 0 0 1 254.5817 -142.3975" fill="none"/>
<text font-size="11.7" font-weight="bold" fill="#000" font-family="'Liberation Sans', Arial, Helvetica, sans-serif" text-anchor="middle"><textPath href="#lp3" startOffset="50%">DOID:824</textPath></text>
<path d="M159.9364 -220.1335A272.1 272.1 0 0 1 199.401 -185.1422L190.827 -177.1813A260.4 260.4 0 0 0 153.0593 -210.668Z" fill="#e59174"/>
<text transform="translate(176.6375,-199.2191) rotate(41.5618)" y="3.325" font-size="9.5" text-anchor="middle" fill="#333" font-family="'Liberation Sans', Arial, Helvetica, sans-serif">108</text>
<path d="M145.8883 -200.798A248.2 248.2 0 0 1 189.1085 -160.752L180.4226 -153.3685A236.8 236.8 0 0 0 139.1875 -191.5752Z" fill="#5b1959"/>
<path d="M189.1085 -160.752A248.2 248.2 0 0 1 197.6463 -150.1305L188.5683 -143.2349A236.8 236.8 0 0 0 180.4226 -153.3685Z" fill="#8489c2"/>
<text transform="translate(154.2822,-166.5112) rotate(42.8169)" y="3.5" font-size="10" text-anchor="middle" fill="#222" font-family="'Liberation Sans', Arial, Helvetica, sans-serif">13</text>
<text transform="translate(176.9268,-142.2178) rotate(51.2069)" y="3.5" font-size="10" text-anchor="middle" fill="#222" font-family="'Liberation Sans', Arial, Helvetica, sans-serif">3</text>
<path d="M127.138 -174.9904A216.3 216.3 0 0 1 172.0151 -131.1353L69.983 -53.3514A88 88 0 0 0 51.7251 -71.1935Z" fill="#efefef"/>
<path d="M89.5197 -123.2133A152.3 152.3 0 0 1 121.1184 -92.3343" fill="none" stroke="#c4c4c4" stroke-width="0.9"/>
<path d="M127.138 -174.9904A216.3 216.3 0 0 1 172.0151 -131.1353" fill="none" stroke="#c4c4c4" stroke-width="0.9"/>
<path d="M106.3468 -146.3738A180.928 180.928 0 0 1 143.8851 -109.6905L69.983 -53.3514A88 88 0 0 0 51.7251 -71.1935Z" fill="#daa52a"/>
<path d="M247.4783 -179.8035A305.9 305.9 0 0 1 288.8496 -100.7011L269.4922 -93.9526A285.4 285.4 0 0 0 230.8935 -167.7539Z" fill="#daa52a"/>
<line x1="247.4783" y1="-179.8035" x2="253.2223" y2="-183.9768" stroke="#222" stroke-width="1.15"/>
<text transform="translate(257.2674,-186.9157) rotate(-36)" y="3.6" font-size="10.5" text-anchor="start" fill="#111" font-family="'Liberation Serif', 'Times New Roman', serif">1</text>
<line x1="263.492" y1="-155.3923" x2="269.6077" y2="-158.999" stroke="#222" stroke-width="1.15"/>
<text transform="translate(273.9145,-161.5389) rotate(-30.5296)" y="3.6" font-size="10.5" text-anchor="start" fill="#111" font-family="'Liberation Serif', 'Times New Roman', serif">10</text>
<line x1="277.1056" y1="-129.5658" x2="283.5373" y2="-132.573" stroke="#222" stroke-width="1.15"/>
<text transform="translate(288.0666,-134.6908) rotate(-25.0593)" y="3.6" font-size="10.5" text-anchor="start" fill="#111" font-family="'Liberation Serif', 'Times New Roman', serif">100</text>
<line x1="288.1952" y1="-102.559" x2="294.8843" y2="-104.9394" stroke="#222" stroke-width="1.15"/>
<text transform="translate(299.5949,-106.6157) rotate(-19.5889)" y="3.6" font-size="10.5" text-anchor="start" fill="#111" font-family="'Liberation Serif', 'Times New Roman', serif">1000</text>
<path id="lp4" d="M209.8314 -202.6318A291.7 291.7 0 0 1 286.1248 -56.758" fill="none"/>
<text font-size="11.7" font-weight="bold" fill="#000" font-family="'Liberation Sans', Arial, Helvetica, sans-serif" text-anchor="middle"><textPath href="#lp4" startOffset="50%">DOID:3388</textPath></text>
<path d="M220.1335 -159.9364A272.1 272.1 0 0 1 247.5054 -113.0465L236.8629 -108.1856A260.4 260.4 0 0 0 210.668 -153.0593Z" fill="#e59174"/>
<text transform="translate(229.9397,-134.2266) rotate(59.7259)" y="3.325" font-size="9.5" text-anchor="middle" fill="#333" font-family="'Liberation Sans', Arial, Helvetica, sans-serif">124</text>
<path d="M200.798 -145.8883A248.2 248.2 0 0 1 228.1836 -97.6499L217.7029 -93.1648A236.8 236.8 0 0 0 191.5752 -139.1875Z" fill="#5b1959"/>
<path d="M228.1836 -97.6499A248.2 248.2 0 0 1 234.3657 -81.7065L223.6011 -77.9537A236.8 236.8 0 0 0 217.7029 -93.1648Z" fill="#8489c2"/>
<text transform="translate(197.4064,-112.0701) rotate(60.4159)" y="3.5" font-size="10" text-anchor="middle" fill="#222" font-family="'Liberation Sans', Arial, Helvetica, sans-serif">13</text>
<text transform="translate(211.6459,-82.067) rotate(68.8059)" y="3.5" font-size="10" text-anchor="middle" fill="#222" font-family="'Liberation Sans', Arial, Helvetica, sans-serif">4</text>
<path d="M174.9904 -127.138A216.3 216.3 0 0 1 204.1192 -71.5615L83.0443 -29.1143A88 88 0 0 0 71.1935 -51.7251Z" fill="#efefef"/>
<path d="M123.2133 -89.5197A152.3 152.3 0 0 1 143.7233 -50.3875" fill="none" stroke="#c4c4c4" stroke-width="0.9"/>
<path d="M174.9904 -127.138A216.3 216.3 0 0 1 204.1192 -71.5615" fill="none" stroke="#c4c4c4" stroke-width="0.9"/>
<path d="M140.6783 -102.2088A173.888 173.888 0 0 1 164.0956 -57.5298L83.0443 -29.1143A88 88 0 0 0 71.1935 -51.7251Z" fill="#daa52a"/>
<path d="M290.9282 -94.5283A305.9 305.9 0 0 1 305.8307 -6.513L285.3353 -6.0766A285.4 285.4 0 0 0 271.4315 -88.1935Z" fill="#daa52a"/>
<line x1="290.9282" y1="-94.5283" x2="297.6807" y2="-96.7223" stroke="#222" stroke-width="1.15"/>
<text transform="translate(302.436,-98.2674) rotate(-18)" y="3.6" font-size="10.5" text-anchor="start" fill="#111" font-family="'Liberation Serif', 'Times New Roman', serif">1</text>
<line x1="298.6147" y1="-66.3634" x2="305.5456" y2="-67.9037" stroke="#222" stroke-width="1.15"/>
<text transform="translate(310.4265,-68.9884) rotate(-12.5296)" y="3.6" font-size="10.5" text-anchor="start" fill="#111" font-family="'Liberation Serif', 'Times New Roman', serif">10</text>
<line x1="303.5811" y1="-37.594" x2="310.6273" y2="-38.4666" stroke="#222" stroke-width="1.15"/>
<text transform="translate(315.5894,-39.0811) rotate(-7.0593)" y="3.6" font-size="10.5" text-anchor="start" fill="#111" font-family="'Liberation Serif', 'Times New Roman', serif">100</text>
<line x1="305.7824" y1="-8.4822" x2="312.8796" y2="-8.6791" stroke="#222" stroke-width="1.15"/>
<text transform="translate(317.8777,-8.8177) rotate(-1.5889)" y="3.6" font-size="10.5" text-anchor="start" fill="#111" font-family="'Liberation Serif', 'Times New Roman', serif">1000</text>
<path id="lp5" d="M262.1782 -127.8729A291.7 291.7 0 0 1 289.6601 34.4373" fill="none"/>
<text font-size="11.7" font-weight="bold" fill="#000" font-family="'Liberation Sans', Arial, Helvetica, sans-serif" text-anchor="middle"><textPath href="#lp5" startOffset="50%">DOID:289</textPath></text>
<path d="M258.7825 -84.0835A272.1 272.1 0 0 1 269.9656 -34.0144L258.3574 -32.5518A260.4 260.4 0 0 0 247.6551 -80.468Z" fill="#e59174"/>
<text transform="translate(259.8474,-58.0379) rotate(77.4094)" y="3.325" font-size="9.5" text-anchor="middle" fill="#333" font-family="'Liberation Sans', Arial, Helvetica, sans-serif">95</text>
<path d="M236.0522 -76.698A248.2 248.2 0 0 1 247.6539 -16.4558L236.279 -15.7A236.8 236.8 0 0 0 225.2102 -73.1752Z" fill="#5b1959"/>
<path d="M247.6539 -16.4558A248.2 248.2 0 0 1 248.1437 -5.2845L236.7463 -5.0418A236.8 236.8 0 0 0 236.279 -15.7Z" fill="#8489c2"/>
<text transform="translate(222.9041,-42.9277) rotate(79.0992)" y="3.5" font-size="10" text-anchor="middle" fill="#222" font-family="'Liberation Sans', Arial, Helvetica, sans-serif">11</text>
<text transform="translate(226.7821,-9.9442) rotate(87.4892)" y="3.5" font-size="10" text-anchor="middle" fill="#222" font-family="'Liberation Sans', Arial, Helvetica, sans-serif">2</text>
<path d="M205.7135 -66.8404A216.3 216.3 0 0 1 216.2426 -4.9828L87.9766 -2.0272A88 88 0 0 0 83.693 -27.1935Z" fill="#efefef"/>
<path d="M144.8459 -47.0633A152.3 152.3 0 0 1 152.2596 -3.5084" fill="none" stroke="#c4c4c4" stroke-width="0.9"/>
<path d="M205.7135 -66.8404A216.3 216.3 0 0 1 216.2426 -4.9828" fill="none" stroke="#c4c4c4" stroke-width="0.9"/>
<path d="M165.4991 -53.7739A174.016 174.016 0 0 1 173.9698 -4.0087L87.9766 -2.0272A88 88 0 0 0 83.693 -27.1935Z" fill="#daa52a"/>
<path d="M305.9 -0A305.9 305.9 0 0 1 292.8749 88.3126L273.2478 82.3943A285.4 285.4 0 0 0 285.4 -0Z" fill="#daa52a"/>
<line x1="305.9" y1="-0" x2="313" y2="-0" stroke="#222" stroke-width="1.15"/>
<text transform="translate(318,-0) rotate(0)" y="3.6" font-size="10.5" text-anchor="start" fill="#111" font-family="'Liberation Serif', 'Times New Roman', serif">1</text>
<line x1="304.5068" y1="29.1617" x2="311.5745" y2="29.8385" stroke="#222" stroke-width="1.15"/>
<text transform="translate(316.5517,30.3152) rotate(5.4704)" y="3.6" font-size="10.5" text-anchor="start" fill="#111" font-family="'Liberation Serif', 'Times New Roman', serif">10</text>
<line x1="300.34" y1="58.0577" x2="307.3109" y2="59.4052" stroke="#222" stroke-width="1.15"/>
<text transform="translate(312.2201,60.3542) rotate(10.9407)" y="3.6" font-size="10.5" text-anchor="start" fill="#111" font-family="'Liberation Serif', 'Times New Roman', serif">100</text>
<line x1="293.4375" y1="86.4249" x2="300.2482" y2="88.4309" stroke="#222" stroke-width="1.15"/>
<text transform="translate(305.0445,89.8435) rotate(16.4111)" y="3.6" font-size="10.5" text-anchor="start" fill="#111" font-family="'Liberation Serif', 'Times New Roman', serif">1000</text>
<path id="lp6" d="M272.1048 125.6148A299.7 299.7 0 0 0 296.7833 -41.7102" fill="none"/>
<text font-size="11.7" font-weight="bold" fill="#000" font-family="'Liberation Sans', Arial, Helvetica, sans-serif" text-anchor="middle"><textPath href="#lp6" startOffset="50%">DOID:1091</textPath></text>
<path d="M272.1 -0A272.1 272.1 0 0 1 266.4079 55.3648L254.9526 52.9842A260.4 260.4 0 0 0 260.4 -0Z" fill="#e59174"/>
<text transform="translate(264.8539,27.23) rotate(275.87)" y="3.325" font-size="9.5" text-anchor="middle" fill="#333" font-family="'Liberation Sans', Arial, Helvetica, sans-serif">140</text>
<path d="M248.2 -0A248.2 248.2 0 0 1 242.4433 53.1459L231.3077 50.7049A236.8 236.8 0 0 0 236.8 -0Z" fill="#5b1959"/>
<path d="M242.4433 53.1459A248.2 248.2 0 0 1 237.6317 71.6547L226.7171 68.3636A236.8 236.8 0 0 0 231.3077 50.7049Z" fill="#8489c2"/>
<text transform="translate(225.6799,24.4454) rotate(276.1821)" y="3.5" font-size="10" text-anchor="middle" fill="#222" font-family="'Liberation Sans', Arial, Helvetica, sans-serif">14</text>
<text transform="translate(219.6978,57.1128) rotate(284.5721)" y="3.5" font-size="10" text-anchor="middle" fill="#222" font-family="'Liberation Sans', Arial, Helvetica, sans-serif">5</text>
<path d="M216.3 -0A216.3 216.3 0 0 1 207.1987 62.0838L84.2972 25.2583A88 88 0 0 0 88 -0Z" fill="#efefef"/>
<path d="M152.3 -0A152.3 152.3 0 0 1 145.8916 43.7141" fill="none" stroke="#c4c4c4" stroke-width="0.9"/>
<path d="M216.3 -0A216.3 216.3 0 0 1 207.1987 62.0838" fill="none" stroke="#c4c4c4" stroke-width="0.9"/>
<path d="M174.144 -0A174.144 174.144 0 0 1 166.8165 49.9839L84.2972 25.2583A88 88 0 0 0 88 -0Z" fill="#daa52a"/>
<path d="M290.9282 94.5283A305.9 305.9 0 0 1 251.2505 174.4936L234.4128 162.7998A285.4 285.4 0 0 0 271.4315 88.1935Z" fill="#daa52a"/>
<line x1="290.9282" y1="94.5283" x2="297.6807" y2="96.7223" stroke="#222" stroke-width="1.15"/>
<text transform="translate(302.436,98.2674) rotate(18)" y="3.6" font-size="10.5" text-anchor="start" fill="#111" font-family="'Liberation Serif', 'Times New Roman', serif">1</text>
<line x1="280.5918" y1="121.8322" x2="287.1043" y2="124.6599" stroke="#222" stroke-width="1.15"/>
<text transform="translate(291.6907,126.6513) rotate(23.4704)" y="3.6" font-size="10.5" text-anchor="start" fill="#111" font-family="'Liberation Serif', 'Times New Roman', serif">10</text>
<line x1="267.6995" y1="148.0263" x2="273.9129" y2="151.462" stroke="#222" stroke-width="1.15"/>
<text transform="translate(278.2885,153.8816) rotate(28.9407)" y="3.6" font-size="10.5" text-anchor="start" fill="#111" font-family="'Liberation Serif', 'Times New Roman', serif">100</text>
<line x1="252.3688" y1="172.8721" x2="258.2264" y2="176.8845" stroke="#222" stroke-width="1.15"/>
<text transform="translate(262.3514,179.7102) rotate(34.4111)" y="3.6" font-size="10.5" text-anchor="start" fill="#111" font-family="'Liberation Serif', 'Times New Roman', serif">1000</text>
<path id="lp7" d="M219.9699 203.5518A299.7 299.7 0 0 0 295.1469 52.0424" fill="none"/>
<text font-size="11.7" font-weight="bold" fill="#000" font-family="'Liberation Sans', Arial, Helvetica, sans-serif" text-anchor="middle"><textPath href="#lp7" startOffset="50%">DOID:403</textPath></text>
<path d="M258.7825 84.0835A272.1 272.1 0 0 1 235.3352 136.5861L225.2161 130.713A260.4 260.4 0 0 0 247.6551 80.468Z" fill="#e59174"/>
<text transform="translate(243.1081,108.5704) rotate(294.0652)" y="3.325" font-size="9.5" text-anchor="middle" fill="#333" font-family="'Liberation Sans', Arial, Helvetica, sans-serif">165</text>
<path d="M236.0522 76.698A248.2 248.2 0 0 1 213.6692 126.2881L203.8553 120.4876A236.8 236.8 0 0 0 225.2102 73.1752Z" fill="#5b1959"/>
<path d="M213.6692 126.2881A248.2 248.2 0 0 1 203.8587 141.58L194.4953 135.0771A236.8 236.8 0 0 0 203.8553 120.4876Z" fill="#8489c2"/>
<text transform="translate(206.9008,93.3867) rotate(294.2925)" y="3.5" font-size="10" text-anchor="middle" fill="#222" font-family="'Liberation Sans', Arial, Helvetica, sans-serif">15</text>
<text transform="translate(191.0604,122.5762) rotate(302.6825)" y="3.5" font-size="10" text-anchor="middle" fill="#222" font-family="'Liberation Sans', Arial, Helvetica, sans-serif">5</text>
<path d="M205.7135 66.8404A216.3 216.3 0 0 1 177.8727 123.0731L72.3662 50.0713A88 88 0 0 0 83.693 27.1935Z" fill="#efefef"/>
<path d="M144.8459 47.0633A152.3 152.3 0 0 1 125.2428 86.6576" fill="none" stroke="#c4c4c4" stroke-width="0.9"/>
<path d="M205.7135 66.8404A216.3 216.3 0 0 1 177.8727 123.0731" fill="none" stroke="#c4c4c4" stroke-width="0.9"/>
<path d="M156.2472 50.7678A164.288 164.288 0 0 1 135.101 93.4786L72.3662 50.0713A88 88 0 0 0 83.693 27.1935Z" fill="#daa52a"/>
<path d="M247.4783 179.8035A305.9 305.9 0 0 1 185.0319 243.5939L172.6319 227.2694A285.4 285.4 0 0 0 230.8935 167.7539Z" fill="#daa52a"/>
<line x1="247.4783" y1="179.8035" x2="253.2223" y2="183.9768" stroke="#222" stroke-width="1.15"/>
<text transform="translate(257.2674,186.9157) rotate(36)" y="3.6" font-size="10.5" text-anchor="start" fill="#111" font-family="'Liberation Serif', 'Times New Roman', serif">1</text>
<line x1="229.2104" y1="202.5769" x2="234.5304" y2="207.2788" stroke="#222" stroke-width="1.15"/>
<text transform="translate(238.2769,210.5899) rotate(41.4704)" y="3.6" font-size="10.5" text-anchor="start" fill="#111" font-family="'Liberation Serif', 'Times New Roman', serif">10</text>
<line x1="208.8547" y1="223.5051" x2="213.7023" y2="228.6927" stroke="#222" stroke-width="1.15"/>
<text transform="translate(217.116,232.3459) rotate(46.9407)" y="3.6" font-size="10.5" text-anchor="start" fill="#111" font-family="'Liberation Serif', 'Times New Roman', serif">100</text>
<line x1="186.5966" y1="242.3974" x2="190.9275" y2="248.0235" stroke="#222" stroke-width="1.15"/>
<text transform="translate(193.9775,251.9856) rotate(52.4111)" y="3.6" font-size="10.5" text-anchor="start" fill="#111" font-family="'Liberation Serif', 'Times New Roman', serif">1000</text>
<path id="lp8" d="M146.3029 261.5637A299.7 299.7 0 0 0 264.6194 140.7006" fill="none"/>
<text font-size="11.7" font-weight="bold" fill="#000" font-family="'Liberation Sans', Arial, Helvetica, sans-serif" text-anchor="middle"><textPath href="#lp8" startOffset="50%">DOID:3082</textPath></text>
<path d="M220.1335 159.9364A272.1 272.1 0 0 1 182.2432 202.054L174.4069 193.3659A260.4 260.4 0 0 0 210.668 153.0593Z" fill="#e59174"/>
<text transform="translate(197.9384,178.0715) rotate(311.9755)" y="3.325" font-size="9.5" text-anchor="middle" fill="#333" font-family="'Liberation Sans', Arial, Helvetica, sans-serif">153</text>
<path d="M200.798 145.8883A248.2 248.2 0 0 1 169.7225 181.1009L161.927 172.7828A236.8 236.8 0 0 0 191.5752 139.1875Z" fill="#5b1959"/>
<path d="M169.7225 181.1009A248.2 248.2 0 0 1 150.1305 197.6463L143.2349 188.5683A236.8 236.8 0 0 0 161.927 172.7828Z" fill="#8489c2"/>
<text transform="translate(170.1997,150.2034) rotate(311.4288)" y="3.5" font-size="10" text-anchor="middle" fill="#222" font-family="'Liberation Sans', Arial, Helvetica, sans-serif">11</text>
<text transform="translate(146.4619,173.4298) rotate(319.8188)" y="3.5" font-size="10" text-anchor="middle" fill="#222" font-family="'Liberation Sans', Arial, Helvetica, sans-serif">6</text>
<path d="M174.9904 127.138A216.3 216.3 0 0 1 131.1353 172.0151L53.3514 69.983A88 88 0 0 0 71.1935 51.7251Z" fill="#efefef"/>
<path d="M123.2133 89.5197A152.3 152.3 0 0 1 92.3343 121.1184" fill="none" stroke="#c4c4c4" stroke-width="0.9"/>
<path d="M174.9904 127.138A216.3 216.3 0 0 1 131.1353 172.0151" fill="none" stroke="#c4c4c4" stroke-width="0.9"/>
<path d="M128.5625 93.4061A158.912 158.912 0 0 1 96.3429 126.3767L53.3514 69.983A88 88 0 0 0 71.1935 51.7251Z" fill="#daa52a"/>
<path d="M179.8035 247.4783A305.9 305.9 0 0 1 100.7011 288.8496L93.9526 269.4922A285.4 285.4 0 0 0 167.7539 230.8935Z" fill="#daa52a"/>
<line x1="179.8035" y1="247.4783" x2="183.9768" y2="253.2223" stroke="#222" stroke-width="1.15"/>
<text transform="translate(186.9157,257.2674) rotate(54)" y="3.6" font-size="10.5" text-anchor="start" fill="#111" font-family="'Liberation Serif', 'Times New Roman', serif">1</text>
<line x1="155.3923" y1="263.492" x2="158.999" y2="269.6077" stroke="#222" stroke-width="1.15"/>
<text transform="translate(161.5389,273.9145) rotate(59.4704)" y="3.6" font-size="10.5" text-anchor="start" fill="#111" font-family="'Liberation Serif', 'Times New Roman', serif">10</text>
<line x1="129.5658" y1="277.1056" x2="132.573" y2="283.5373" stroke="#222" stroke-width="1.15"/>
<text transform="translate(134.6908,288.0666) rotate(64.9407)" y="3.6" font-size="10.5" text-anchor="start" fill="#111" font-family="'Liberation Serif', 'Times New Roman', serif">100</text>
<line x1="102.559" y1="288.1952" x2="104.9394" y2="294.8843" stroke="#222" stroke-width="1.15"/>
<text transform="translate(106.6157,299.5949) rotate(70.4111)" y="3.6" font-size="10.5" text-anchor="start" fill="#111" font-family="'Liberation Serif', 'Times New Roman', serif">1000</text>
<path id="lp9" d="M58.3147 293.9719A299.7 299.7 0 0 0 208.1891 215.5861" fill="none"/>
<text font-size="11.7" font-weight="bold" fill="#000" font-family="'Liberation Sans', Arial, Helvetica, sans-serif" text-anchor="middle"><textPath href="#lp9" startOffset="50%">DOID:114</textPath></text>
<path d="M159.9364 220.1335A272.1 272.1 0 0 1 99.4551 253.2728L95.1787 242.3823A260.4 260.4 0 0 0 153.0593 210.668Z" fill="#e59174"/>
<text transform="translate(127.9389,233.4967) rotate(331.2805)" y="3.325" font-size="9.5" text-anchor="middle" fill="#333" font-family="'Liberation Sans', Arial, Helvetica, sans-serif">459</text>
<path d="M145.8883 200.798A248.2 248.2 0 0 1 115.0285 219.9357L109.7451 209.8339A236.8 236.8 0 0 0 139.1875 191.5752Z" fill="#5b1959"/>
<path d="M115.0285 219.9357A248.2 248.2 0 0 1 81.7065 234.3657L77.9537 223.6011A236.8 236.8 0 0 0 109.7451 209.8339Z" fill="#8489c2"/>
<text transform="translate(119.6358,192.9152) rotate(328.195)" y="3.5" font-size="10" text-anchor="middle" fill="#222" font-family="'Liberation Sans', Arial, Helvetica, sans-serif">19</text>
<text transform="translate(90.2071,208.3067) rotate(336.585)" y="3.5" font-size="10" text-anchor="middle" fill="#222" font-family="'Liberation Sans', Arial, Helvetica, sans-serif">19</text>
<path d="M127.138 174.9904A216.3 216.3 0 0 1 71.5615 204.1192L29.1143 83.0443A88 88 0 0 0 51.7251 71.1935Z" fill="#efefef"/>
<path d="M89.5197 123.2133A152.3 152.3 0 0 1 50.3875 143.7233" fill="none" stroke="#c4c4c4" stroke-width="0.9"/>
<path d="M127.138 174.9904A216.3 216.3 0 0 1 71.5615 204.1192" fill="none" stroke="#c4c4c4" stroke-width="0.9"/>
<path d="M83.0987 114.3756A141.376 141.376 0 0 1 46.7734 133.4145L29.1143 83.0443A88 88 0 0 0 51.7251 71.1935Z" fill="#daa52a"/>
<path d="M94.5283 290.9282A305.9 305.9 0 0 1 6.513 305.8307L6.0766 285.3353A285.4 285.4 0 0 0 88.1935 271.4315Z" fill="#daa52a"/>
<line x1="94.5283" y1="290.9282" x2="96.7223" y2="297.6807" stroke="#222" stroke-width="1.15"/>
<text transform="translate(98.2674,302.436) rotate(72)" y="3.6" font-size="10.5" text-anchor="start" fill="#111" font-family="'Liberation Serif', 'Times New Roman', serif">1</text>
<line x1="66.3634" y1="298.6147" x2="67.9037" y2="305.5456" stroke="#222" stroke-width="1.15"/>
<text transform="translate(68.9884,310.4265) rotate(77.4704)" y="3.6" font-size="10.5" text-anchor="start" fill="#111" font-family="'Liberation Serif', 'Times New Roman', serif">10</text>
<line x1="37.594" y1="303.5811" x2="38.4666" y2="310.6273" stroke="#222" stroke-width="1.15"/>
<text transform="translate(39.0811,315.5894) rotate(82.9407)" y="3.6" font-size="10.5" text-anchor="start" fill="#111" font-family="'Liberation Serif', 'Times New Roman', serif">100</text>
<line x1="8.4822" y1="305.7824" x2="8.6791" y2="312.8796" stroke="#222" stroke-width="1.15"/>
<text transform="translate(8.8177,317.8777) rotate(88.4111)" y="3.6" font-size="10.5" text-anchor="start" fill="#111" font-family="'Liberation Serif', 'Times New Roman', serif">1000</text>
<path id="lp10" d="M-35.3818 297.6041A299.7 299.7 0 0 0 131.3798 269.3686" fill="none"/>
<text font-size="11.7" font-weight="bold" fill="#000" font-family="'Liberation Sans', Arial, Helvetica, sans-serif" text-anchor="middle"><textPath href="#lp10" startOffset="50%">DOID:7148</textPath></text>
<path d="M84.0835 258.7825A272.1 272.1 0 0 1 15.865 271.6371L15.1829 259.957A260.4 260.4 0 0 0 80.468 247.6551Z" fill="#e59174"/>
<text transform="translate(49.3026,261.6454) rotate(349.3287)" y="3.325" font-size="9.5" text-anchor="middle" fill="#333" font-family="'Liberation Sans', Arial, Helvetica, sans-serif">478</text>
<path d="M76.698 236.0522A248.2 248.2 0 0 1 38.5263 245.1917L36.7568 233.9299A236.8 236.8 0 0 0 73.1752 225.2102Z" fill="#5b1959"/>
<path d="M38.5263 245.1917A248.2 248.2 0 0 1 5.2845 248.1437L5.0418 236.7463A236.8 236.8 0 0 0 36.7568 233.9299Z" fill="#8489c2"/>
<text transform="translate(52.8567,220.7604) rotate(346.5351)" y="3.5" font-size="10" text-anchor="middle" fill="#222" font-family="'Liberation Sans', Arial, Helvetica, sans-serif">20</text>
<text transform="translate(20.0798,226.1102) rotate(354.9251)" y="3.5" font-size="10" text-anchor="middle" fill="#222" font-family="'Liberation Sans', Arial, Helvetica, sans-serif">17</text>
<path d="M66.8404 205.7135A216.3 216.3 0 0 1 4.9828 216.2426L2.0272 87.9766A88 88 0 0 0 27.1935 83.693Z" fill="#efefef"/>
<path d="M47.0633 144.8459A152.3 152.3 0 0 1 3.5084 152.2596" fill="none" stroke="#c4c4c4" stroke-width="0.9"/>
<path d="M66.8404 205.7135A216.3 216.3 0 0 1 4.9828 216.2426" fill="none" stroke="#c4c4c4" stroke-width="0.9"/>
<path d="M42.501 130.8045A137.536 137.536 0 0 1 3.1683 137.4995L2.0272 87.9766A88 88 0 0 0 27.1935 83.693Z" fill="#daa52a"/>
<path d="M0 305.9A305.9 305.9 0 0 1 -88.3126 292.8749L-82.3943 273.2478A285.4 285.4 0 0 0 0 285.4Z" fill="#daa52a"/>
<line x1="0" y1="305.9" x2="0" y2="313" stroke="#222" stroke-width="1.15"/>
<text transform="translate(0,318) rotate(-90)" y="3.6" font-size="10.5" text-anchor="end" fill="#111" font-family="'Liberation Serif', 'Times New Roman', serif">1</text>
<line x1="-29.1617" y1="304.5068" x2="-29.8385" y2="311.5745" stroke="#222" stroke-width="1.15"/>
<text transform="translate(-30.3152,316.5517) rotate(-84.5296)" y="3.6" font-size="10.5" text-anchor="end" fill="#111" font-family="'Liberation Serif', 'Times New Roman', serif">10</text>
<line x1="-58.0577" y1="300.34" x2="-59.4052" y2="307.3109" stroke="#222" stroke-width="1.15"/>
<text transform="translate(-60.3542,312.2201) rotate(-79.0593)" y="3.6" font-size="10.5" text-anchor="end" fill="#111" font-family="'Liberation Serif', 'Times New Roman', serif">100</text>
<line x1="-86.4249" y1="293.4375" x2="-88.4309" y2="300.2482" stroke="#222" stroke-width="1.15"/>
<text transform="translate(-89.8435,305.0445) rotate(-73.5889)" y="3.6" font-size="10.5" text-anchor="end" fill="#111" font-family="'Liberation Serif', 'Times New Roman', serif">1000</text>
<path id="lp11" d="M-125.6148 272.1048A299.7 299.7 0 0 0 41.7102 296.7833" fill="none"/>
<text font-size="11.7" font-weight="bold" fill="#000" font-family="'Liberation Sans', Arial, Helvetica, sans-serif" text-anchor="middle"><textPath href="#lp11" startOffset="50%">DOID:848</textPath></text>
<path d="M0 272.1A272.1 272.1 0 0 1 -71.3844 262.5694L-68.3149 251.2792A260.4 260.4 0 0 0 0 260.4Z" fill="#e59174"/>
<text transform="translate(-35.2347,263.9083) rotate(367.6047)" y="3.325" font-size="9.5" text-anchor="middle" fill="#333" font-family="'Liberation Sans', Arial, Helvetica, sans-serif">603</text>
<path d="M0 248.2A248.2 248.2 0 0 1 -39.3385 245.0627L-37.5317 233.8068A236.8 236.8 0 0 0 0 236.8Z" fill="#5b1959"/>
<path d="M-39.3385 245.0627A248.2 248.2 0 0 1 -71.6547 237.6317L-68.3636 226.7171A236.8 236.8 0 0 0 -37.5317 233.8068Z" fill="#8489c2"/>
<text transform="translate(-18.0463,226.2815) rotate(364.5598)" y="3.5" font-size="10" text-anchor="middle" fill="#222" font-family="'Liberation Sans', Arial, Helvetica, sans-serif">25</text>
<text transform="translate(-50.87,221.2267) rotate(372.9498)" y="3.5" font-size="10" text-anchor="middle" fill="#222" font-family="'Liberation Sans', Arial, Helvetica, sans-serif">21</text>
<path d="M0 216.3A216.3 216.3 0 0 1 -62.0838 207.1987L-25.2583 84.2972A88 88 0 0 0 0 88Z" fill="#efefef"/>
<path d="M0 152.3A152.3 152.3 0 0 1 -43.7141 145.8916" fill="none" stroke="#c4c4c4" stroke-width="0.9"/>
<path d="M0 216.3A216.3 216.3 0 0 1 -62.0838 207.1987" fill="none" stroke="#c4c4c4" stroke-width="0.9"/>
<path d="M0 136.256A136.256 136.256 0 0 1 -39.109 130.5227L-25.2583 84.2972A88 88 0 0 0 0 88Z" fill="#daa52a"/>
<path d="M-94.5283 290.9282A305.9 305.9 0 0 1 -174.4936 251.2505L-162.7998 234.4128A285.4 285.4 0 0 0 -88.1935 271.4315Z" fill="#daa52a"/>
<line x1="-94.5283" y1="290.9282" x2="-96.7223" y2="297.6807" stroke="#222" stroke-width="1.15"/>
<text transform="translate(-98.2674,302.436) rotate(-72)" y="3.6" font-size="10.5" text-anchor="end" fill="#111" font-family="'Liberation Serif', 'Times New Roman', serif">1</text>
<line x1="-121.8322" y1="280.5918" x2="-124.6599" y2="287.1043" stroke="#222" stroke-width="1.15"/>
<text transform="translate(-126.6513,291.6907) rotate(-66.5296)" y="3.6" font-size="10.5" text-anchor="end" fill="#111" font-family="'Liberation Serif', 'Times New Roman', serif">10</text>
<line x1="-148.0263" y1="267.6995" x2="-151.462" y2="273.9129" stroke="#222" stroke-width="1.15"/>
<text transform="translate(-153.8816,278.2885) rotate(-61.0593)" y="3.6" font-size="10.5" text-anchor="end" fill="#111" font-family="'Liberation Serif', 'Times New Roman', serif">100</text>
<line x1="-172.8721" y1="252.3688" x2="-176.8845" y2="258.2264" stroke="#222" stroke-width="1.15"/>
<text transform="translate(-179.7102,262.3514) rotate(-55.5889)" y="3.6" font-size="10.5" text-anchor="end" fill="#111" font-family="'Liberation Serif', 'Times New Roman', serif">1000</text>
<path id="lp12" d="M-203.5518 219.9699A299.7 299.7 0 0 0 -52.0424 295.1469" fill="none"/>
<text font-size="11.7" font-weight="bold" fill="#000" font-family="'Liberation Sans', Arial, Helvetica, sans-serif" text-anchor="middle"><textPath href="#lp12" startOffset="50%">DOID:850</textPath></text>
<path d="M-84.0835 258.7825A272.1 272.1 0 0 1 -146.213 229.4781L-139.926 219.6108A260.4 260.4 0 0 0 -80.468 247.6551Z" fill="#e59174"/>
<text transform="translate(-113.5811,240.8078) rotate(385.2517)" y="3.325" font-size="9.5" text-anchor="middle" fill="#333" font-family="'Liberation Sans', Arial, Helvetica, sans-serif">448</text>
<path d="M-76.698 236.0522A248.2 248.2 0 0 1 -119.79 217.3789L-114.288 207.3945A236.8 236.8 0 0 0 -73.1752 225.2102Z" fill="#5b1959"/>
<path d="M-119.79 217.3789A248.2 248.2 0 0 1 -141.58 203.8587L-135.0771 194.4953A236.8 236.8 0 0 0 -114.288 207.3945Z" fill="#8489c2"/>
<text transform="translate(-90.2574,208.2849) rotate(383.4288)" y="3.5" font-size="10" text-anchor="middle" fill="#222" font-family="'Liberation Sans', Arial, Helvetica, sans-serif">22</text>
<text transform="translate(-119.6823,192.8863) rotate(391.8188)" y="3.5" font-size="10" text-anchor="middle" fill="#222" font-family="'Liberation Sans', Arial, Helvetica, sans-serif">12</text>
<path d="M-66.8404 205.7135A216.3 216.3 0 0 1 -123.0731 177.8727L-50.0713 72.3662A88 88 0 0 0 -27.1935 83.693Z" fill="#efefef"/>
<path d="M-47.0633 144.8459A152.3 152.3 0 0 1 -86.6576 125.2428" fill="none" stroke="#c4c4c4" stroke-width="0.9"/>
<path d="M-66.8404 205.7135A216.3 216.3 0 0 1 -123.0731 177.8727" fill="none" stroke="#c4c4c4" stroke-width="0.9"/>
<path d="M-42.0263 129.3437A136 136 0 0 1 -77.383 111.8386L-50.0713 72.3662A88 88 0 0 0 -27.1935 83.693Z" fill="#daa52a"/>
<path d="M-179.8035 247.4783A305.9 305.9 0 0 1 -243.5939 185.0319L-227.2694 172.6319A285.4 285.4 0 0 0 -167.7539 230.8935Z" fill="#daa52a"/>
<line x1="-179.8035" y1="247.4783" x2="-183.9768" y2="253.2223" stroke="#222" stroke-width="1.15"/>
<text transform="translate(-186.9157,257.2674) rotate(-54)" y="3.6" font-size="10.5" text-anchor="end" fill="#111" font-family="'Liberation Serif', 'Times New Roman', serif">1</text>
<line x1="-202.5769" y1="229.2104" x2="-207.2788" y2="234.5304" stroke="#222" stroke-width="1.15"/>
<text transform="translate(-210.5899,238.2769) rotate(-48.5296)" y="3.6" font-size="10.5" text-anchor="end" fill="#111" font-family="'Liberation Serif', 'Times New Roman', serif">10</text>
<line x1="-223.5051" y1="208.8547" x2="-228.6927" y2="213.7023" stroke="#222" stroke-width="1.15"/>
<text transform="translate(-232.3459,217.116) rotate(-43.0593)" y="3.6" font-size="10.5" text-anchor="end" fill="#111" font-family="'Liberation Serif', 'Times New Roman', serif">100</text>
<line x1="-242.3974" y1="186.5966" x2="-248.0235" y2="190.9275" stroke="#222" stroke-width="1.15"/>
<text transform="translate(-251.9856,193.9775) rotate(-37.5889)" y="3.6" font-size="10.5" text-anchor="end" fill="#111" font-family="'Liberation Serif', 'Times New Roman', serif">1000</text>
<path id="lp13" d="M-261.5637 146.3029A299.7 299.7 0 0 0 -140.7006 264.6194" fill="none"/>
<text font-size="11.7" font-weight="bold" fill="#000" font-family="'Liberation Sans', Arial, Helvetica, sans-serif" text-anchor="middle"><textPath href="#lp13" startOffset="50%">DOID:10763</textPath></text>
<path d="M-159.9364 220.1335A272.1 272.1 0 0 1 -211.2106 171.5473L-202.1288 164.171A260.4 260.4 0 0 0 -153.0593 210.668Z" fill="#e59174"/>
<text transform="translate(-183.1331,193.265) rotate(403.4581)" y="3.325" font-size="9.5" text-anchor="middle" fill="#333" font-family="'Liberation Sans', Arial, Helvetica, sans-serif">533</text>
<path d="M-145.8883 200.798A248.2 248.2 0 0 1 -174.9194 176.0865L-166.8852 167.9987A236.8 236.8 0 0 0 -139.1875 191.5752Z" fill="#5b1959"/>
<path d="M-174.9194 176.0865A248.2 248.2 0 0 1 -197.6463 150.1305L-188.5683 143.2349A236.8 236.8 0 0 0 -166.8852 167.9987Z" fill="#8489c2"/>
<text transform="translate(-147.1375,172.857) rotate(400.4048)" y="3.5" font-size="10" text-anchor="middle" fill="#222" font-family="'Liberation Sans', Arial, Helvetica, sans-serif">21</text>
<text transform="translate(-170.7845,149.5382) rotate(408.7948)" y="3.5" font-size="10" text-anchor="middle" fill="#222" font-family="'Liberation Sans', Arial, Helvetica, sans-serif">19</text>
<path d="M-127.138 174.9904A216.3 216.3 0 0 1 -172.0151 131.1353L-69.983 53.3514A88 88 0 0 0 -51.7251 71.1935Z" fill="#efefef"/>
<path d="M-89.5197 123.2133A152.3 152.3 0 0 1 -121.1184 92.3343" fill="none" stroke="#c4c4c4" stroke-width="0.9"/>
<path d="M-127.138 174.9904A216.3 216.3 0 0 1 -172.0151 131.1353" fill="none" stroke="#c4c4c4" stroke-width="0.9"/>
<path d="M-79.6378 109.6121A135.488 135.488 0 0 1 -107.7484 82.1418L-69.983 53.3514A88 88 0 0 0 -51.7251 71.1935Z" fill="#daa52a"/>
<path d="M-247.4783 179.8035A305.9 305.9 0 0 1 -288.8496 100.7011L-269.4922 93.9526A285.4 285.4 0 0 0 -230.8935 167.7539Z" fill="#daa52a"/>
<line x1="-247.4783" y1="179.8035" x2="-253.2223" y2="183.9768" stroke="#222" stroke-width="1.15"/>
<text transform="translate(-257.2674,186.9157) rotate(-36)" y="3.6" font-size="10.5" text-anchor="end" fill="#111" font-family="'Liberation Serif', 'Times New Roman', serif">1</text>
<line x1="-263.492" y1="155.3923" x2="-269.6077" y2="158.999" stroke="#222" stroke-width="1.15"/>
<text transform="translate(-273.9145,161.5389) rotate(-30.5296)" y="3.6" font-size="10.5" text-anchor="end" fill="#111" font-family="'Liberation Serif', 'Times New Roman', serif">10</text>
<line x1="-277.1056" y1="129.5658" x2="-283.5373" y2="132.573" stroke="#222" stroke-width="1.15"/>
<text transform="translate(-288.0666,134.6908) rotate(-25.0593)" y="3.6" font-size="10.5" text-anchor="end" fill="#111" font-family="'Liberation Serif', 'Times New Roman', serif">100</text>
<line x1="-288.1952" y1="102.559" x2="-294.8843" y2="104.9394" stroke="#222" stroke-width="1.15"/>
<text transform="translate(-299.5949,106.6157) rotate(-19.5889)" y="3.6" font-size="10.5" text-anchor="end" fill="#111" font-family="'Liberation Serif', 'Times New Roman', serif">1000</text>
<path id="lp14" d="M-293.9719 58.3147A299.7 299.7 0 0 0 -215.5861 208.1891" fill="none"/>
<text font-size="11.7" font-weight="bold" fill="#000" font-family="'Liberation Sans', Arial, Helvetica, sans-serif" text-anchor="middle"><textPath href="#lp14" startOffset="50%">DOID:0050828</textPath></text>
<path d="M-220.1335 159.9364A272.1 272.1 0 0 1 -255.7127 93.0023L-244.7173 89.0033A260.4 260.4 0 0 0 -210.668 153.0593Z" fill="#e59174"/>
<text transform="translate(-235.0998,124.9686) rotate(422.0069)" y="3.325" font-size="9.5" text-anchor="middle" fill="#333" font-family="'Liberation Sans', Arial, Helvetica, sans-serif">846</text>
<path d="M-200.798 145.8883A248.2 248.2 0 0 1 -219.1282 116.5593L-209.0635 111.2056A236.8 236.8 0 0 0 -191.5752 139.1875Z" fill="#5b1959"/>
<path d="M-219.1282 116.5593A248.2 248.2 0 0 1 -234.3657 81.7065L-223.6011 77.9537A236.8 236.8 0 0 0 -209.0635 111.2056Z" fill="#8489c2"/>
<text transform="translate(-192.4969,120.3077) rotate(417.9952)" y="3.5" font-size="10" text-anchor="middle" fill="#222" font-family="'Liberation Sans', Arial, Helvetica, sans-serif">30</text>
<text transform="translate(-207.9909,90.9328) rotate(426.3852)" y="3.5" font-size="10" text-anchor="middle" fill="#222" font-family="'Liberation Sans', Arial, Helvetica, sans-serif">33</text>
<path d="M-174.9904 127.138A216.3 216.3 0 0 1 -204.1192 71.5615L-83.0443 29.1143A88 88 0 0 0 -71.1935 51.7251Z" fill="#efefef"/>
<path d="M-123.2133 89.5197A152.3 152.3 0 0 1 -143.7233 50.3875" fill="none" stroke="#c4c4c4" stroke-width="0.9"/>
<path d="M-174.9904 127.138A216.3 216.3 0 0 1 -204.1192 71.5615" fill="none" stroke="#c4c4c4" stroke-width="0.9"/>
<path d="M-109.405 79.4874A135.232 135.232 0 0 1 -127.6165 44.7407L-83.0443 29.1143A88 88 0 0 0 -71.1935 51.7251Z" fill="#daa52a"/>
<path d="M-290.9282 94.5283A305.9 305.9 0 0 1 -305.8307 6.513L-285.3353 6.0766A285.4 285.4 0 0 0 -271.4315 88.1935Z" fill="#daa52a"/>
<line x1="-290.9282" y1="94.5283" x2="-297.6807" y2="96.7223" stroke="#222" stroke-width="1.15"/>
<text transform="translate(-302.436,98.2674) rotate(-18)" y="3.6" font-size="10.5" text-anchor="end" fill="#111" font-family="'Liberation Serif', 'Times New Roman', serif">1</text>
<line x1="-298.6147" y1="66.3634" x2="-305.5456" y2="67.9037" stroke="#222" stroke-width="1.15"/>
<text transform="translate(-310.4265,68.9884) rotate(-12.5296)" y="3.6" font-size="10.5" text-anchor="end" fill="#111" font-family="'Liberation Serif', 'Times New Roman', serif">10</text>
<line x1="-303.5811" y1="37.594" x2="-310.6273" y2="38.4666" stroke="#222" stroke-width="1.15"/>
<text transform="translate(-315.5894,39.0811) rotate(-7.0593)" y="3.6" font-size="10.5" text-anchor="end" fill="#111" font-family="'Liberation Serif', 'Times New Roman', serif">100</text>
<line x1="-305.7824" y1="8.4822" x2="-312.8796" y2="8.6791" stroke="#222" stroke-width="1.15"/>
<text transform="translate(-317.8777,8.8177) rotate(-1.5889)" y="3.6" font-size="10.5" text-anchor="end" fill="#111" font-family="'Liberation Serif', 'Times New Roman', serif">1000</text>
<path id="lp15" d="M-297.6041 -35.3818A299.7 299.7 0 0 0 -269.3686 131.3798" fill="none"/>
<text font-size="11.7" font-weight="bold" fill="#000" font-family="'Liberation Sans', Arial, Helvetica, sans-serif" text-anchor="middle"><textPath href="#lp15" startOffset="50%">DOID:3342</textPath></text>
<path d="M-258.7825 84.0835A272.1 272.1 0 0 1 -271.8034 12.7006L-260.1162 12.1545A260.4 260.4 0 0 0 -247.6551 80.468Z" fill="#e59174"/>
<text transform="translate(-261.928,47.7783) rotate(439.6623)" y="3.325" font-size="9.5" text-anchor="middle" fill="#333" font-family="'Liberation Sans', Arial, Helvetica, sans-serif">633</text>
<path d="M-236.0522 76.698A248.2 248.2 0 0 1 -245.3327 37.6176L-234.0644 35.8898A236.8 236.8 0 0 0 -225.2102 73.1752Z" fill="#5b1959"/>
<path d="M-245.3327 37.6176A248.2 248.2 0 0 1 -248.1437 5.2845L-236.7463 5.0418A236.8 236.8 0 0 0 -234.0644 35.8898Z" fill="#8489c2"/>
<text transform="translate(-220.858,52.4477) rotate(436.6413)" y="3.5" font-size="10" text-anchor="middle" fill="#222" font-family="'Liberation Sans', Arial, Helvetica, sans-serif">26</text>
<text transform="translate(-226.147,19.6609) rotate(445.0313)" y="3.5" font-size="10" text-anchor="middle" fill="#222" font-family="'Liberation Sans', Arial, Helvetica, sans-serif">21</text>
<path d="M-205.7135 66.8404A216.3 216.3 0 0 1 -216.2426 4.9828L-87.9766 2.0272A88 88 0 0 0 -83.693 27.1935Z" fill="#efefef"/>
<path d="M-144.8459 47.0633A152.3 152.3 0 0 1 -152.2596 3.5084" fill="none" stroke="#c4c4c4" stroke-width="0.9"/>
<path d="M-205.7135 66.8404A216.3 216.3 0 0 1 -216.2426 4.9828" fill="none" stroke="#c4c4c4" stroke-width="0.9"/>
<path d="M-128.2481 41.6703A134.848 134.848 0 0 1 -134.8122 3.1064L-87.9766 2.0272A88 88 0 0 0 -83.693 27.1935Z" fill="#daa52a"/>
<path d="M-305.9 0A305.9 305.9 0 0 1 -292.8749 -88.3126L-273.2478 -82.3943A285.4 285.4 0 0 0 -285.4 0Z" fill="#daa52a"/>
<line x1="-305.9" y1="0" x2="-313" y2="0" stroke="#222" stroke-width="1.15"/>
<text transform="translate(-318,0) rotate(0)" y="3.6" font-size="10.5" text-anchor="end" fill="#111" font-family="'Liberation Serif', 'Times New Roman', serif">1</text>
<line x1="-304.5068" y1="-29.1617" x2="-311.5745" y2="-29.8385" stroke="#222" stroke-width="1.15"/>
<text transform="translate(-316.5517,-30.3152) rotate(5.4704)" y="3.6" font-size="10.5" text-anchor="end" fill="#111" font-family="'Liberation Serif', 'Times New Roman', serif">10</text>
<line x1="-300.34" y1="-58.0577" x2="-307.3109" y2="-59.4052" stroke="#222" stroke-width="1.15"/>
<text transform="translate(-312.2201,-60.3542) rotate(10.9407)" y="3.6" font-size="10.5" text-anchor="end" fill="#111" font-family="'Liberation Serif', 'Times New Roman', serif">100</text>
<line x1="-293.4375" y1="-86.4249" x2="-300.2482" y2="-88.4309" stroke="#222" stroke-width="1.15"/>
<text transform="translate(-305.0445,-89.8435) rotate(16.4111)" y="3.6" font-size="10.5" text-anchor="end" fill="#111" font-family="'Liberation Serif', 'Times New Roman', serif">1000</text>
<path id="lp16" d="M-288.8612 40.5968A291.7 291.7 0 0 1 -264.8414 -122.2617" fill="none"/>
<text font-size="11.7" font-weight="bold" fill="#000" font-family="'Liberation Sans', Arial, Helvetica, sans-serif" text-anchor="middle"><textPath href="#lp16" startOffset="50%">DOID:0060072</textPath></text>
<path d="M-272.1 0A272.1 272.1 0 0 1 -262.953 -69.9579L-251.6464 -66.9498A260.4 260.4 0 0 0 -260.4 0Z" fill="#e59174"/>
<text transform="translate(-264.0029,-34.5182) rotate(277.4491)" y="3.325" font-size="9.5" text-anchor="middle" fill="#333" font-family="'Liberation Sans', Arial, Helvetica, sans-serif">529</text>
<path d="M-248.2 0A248.2 248.2 0 0 1 -245.406 -37.1366L-234.1343 -35.4309A236.8 236.8 0 0 0 -236.8 0Z" fill="#5b1959"/>
<path d="M-245.406 -37.1366A248.2 248.2 0 0 1 -237.6317 -71.6547L-226.7171 -68.3636A236.8 236.8 0 0 0 -234.1343 -35.4309Z" fill="#8489c2"/>
<text transform="translate(-226.3603,-17.0303) rotate(274.3026)" y="3.5" font-size="10" text-anchor="middle" fill="#222" font-family="'Liberation Sans', Arial, Helvetica, sans-serif">20</text>
<text transform="translate(-221.4528,-49.8763) rotate(282.6926)" y="3.5" font-size="10" text-anchor="middle" fill="#222" font-family="'Liberation Sans', Arial, Helvetica, sans-serif">19</text>
<path d="M-216.3 0A216.3 216.3 0 0 1 -207.1987 -62.0838L-84.2972 -25.2583A88 88 0 0 0 -88 0Z" fill="#efefef"/>
<path d="M-152.3 0A152.3 152.3 0 0 1 -145.8916 -43.7141" fill="none" stroke="#c4c4c4" stroke-width="0.9"/>
<path d="M-216.3 0A216.3 216.3 0 0 1 -207.1987 -62.0838" fill="none" stroke="#c4c4c4" stroke-width="0.9"/>
<path d="M-135.744 0A135.744 135.744 0 0 1 -130.0323 -38.9621L-84.2972 -25.2583A88 88 0 0 0 -88 0Z" fill="#daa52a"/>
<path d="M-290.9282 -94.5283A305.9 305.9 0 0 1 -251.2505 -174.4936L-234.4128 -162.7998A285.4 285.4 0 0 0 -271.4315 -88.1935Z" fill="#daa52a"/>
<line x1="-290.9282" y1="-94.5283" x2="-297.6807" y2="-96.7223" stroke="#222" stroke-width="1.15"/>
<text transform="translate(-302.436,-98.2674) rotate(18)" y="3.6" font-size="10.5" text-anchor="end" fill="#111" font-family="'Liberation Serif', 'Times New Roman', serif">1</text>
<line x1="-280.5918" y1="-121.8322" x2="-287.1043" y2="-124.6599" stroke="#222" stroke-width="1.15"/>
<text transform="translate(-291.6907,-126.6513) rotate(23.4704)" y="3.6" font-size="10.5" text-anchor="end" fill="#111" font-family="'Liberation Serif', 'Times New Roman', serif">10</text>
<line x1="-267.6995" y1="-148.0263" x2="-273.9129" y2="-151.462" stroke="#222" stroke-width="1.15"/>
<text transform="translate(-278.2885,-153.8816) rotate(28.9407)" y="3.6" font-size="10.5" text-anchor="end" fill="#111" font-family="'Liberation Serif', 'Times New Roman', serif">100</text>
<line x1="-252.3688" y1="-172.8721" x2="-258.2264" y2="-176.8845" stroke="#222" stroke-width="1.15"/>
<text transform="translate(-262.3514,-179.7102) rotate(34.4111)" y="3.6" font-size="10.5" text-anchor="end" fill="#111" font-family="'Liberation Serif', 'Times New Roman', serif">1000</text>
<path id="lp17" d="M-287.2684 -50.6532A291.7 291.7 0 0 1 -214.0982 -198.1183" fill="none"/>
<text font-size="11.7" font-weight="bold" fill="#000" font-family="'Liberation Sans', Arial, Helvetica, sans-serif" text-anchor="middle"><textPath href="#lp17" startOffset="50%">DOID:0080001</textPath></text>
<path d="M-258.7825 -84.0835A272.1 272.1 0 0 1 -226.2107 -151.2188L-216.4839 -144.7166A260.4 260.4 0 0 0 -247.6551 -80.468Z" fill="#e59174"/>
<text transform="translate(-239.5456,-116.2195) rotate(295.8811)" y="3.325" font-size="9.5" text-anchor="middle" fill="#333" font-family="'Liberation Sans', Arial, Helvetica, sans-serif">761</text>
<path d="M-236.0522 -76.698A248.2 248.2 0 0 1 -221.0782 -112.817L-210.9239 -107.6352A236.8 236.8 0 0 0 -225.2102 -73.1752Z" fill="#5b1959"/>
<path d="M-221.0782 -112.817A248.2 248.2 0 0 1 -203.8587 -141.58L-194.4953 -135.0771A236.8 236.8 0 0 0 -210.9239 -107.6352Z" fill="#8489c2"/>
<text transform="translate(-209.6938,-86.9339) rotate(292.5177)" y="3.5" font-size="10" text-anchor="middle" fill="#222" font-family="'Liberation Sans', Arial, Helvetica, sans-serif">28</text>
<text transform="translate(-194.7651,-116.6) rotate(300.9077)" y="3.5" font-size="10" text-anchor="middle" fill="#222" font-family="'Liberation Sans', Arial, Helvetica, sans-serif">24</text>
<path d="M-205.7135 -66.8404A216.3 216.3 0 0 1 -177.8727 -123.0731L-72.3662 -50.0713A88 88 0 0 0 -83.693 -27.1935Z" fill="#efefef"/>
<path d="M-144.8459 -47.0633A152.3 152.3 0 0 1 -125.2428 -86.6576" fill="none" stroke="#c4c4c4" stroke-width="0.9"/>
<path d="M-205.7135 -66.8404A216.3 216.3 0 0 1 -177.8727 -123.0731" fill="none" stroke="#c4c4c4" stroke-width="0.9"/>
<path d="M-124.7177 -40.5233A131.136 131.136 0 0 1 -107.8387 -74.6154L-72.3662 -50.0713A88 88 0 0 0 -83.693 -27.1935Z" fill="#daa52a"/>
<path d="M-247.4783 -179.8035A305.9 305.9 0 0 1 -185.0319 -243.5939L-172.6319 -227.2694A285.4 285.4 0 0 0 -230.8935 -167.7539Z" fill="#daa52a"/>
<line x1="-247.4783" y1="-179.8035" x2="-253.2223" y2="-183.9768" stroke="#222" stroke-width="1.15"/>
<text transform="translate(-257.2674,-186.9157) rotate(36)" y="3.6" font-size="10.5" text-anchor="end" fill="#111" font-family="'Liberation Serif', 'Times New Roman', serif">1</text>
<line x1="-229.2104" y1="-202.5769" x2="-234.5304" y2="-207.2788" stroke="#222" stroke-width="1.15"/>
<text transform="translate(-238.2769,-210.5899) rotate(41.4704)" y="3.6" font-size="10.5" text-anchor="end" fill="#111" font-family="'Liberation Serif', 'Times New Roman', serif">10</text>
<line x1="-208.8547" y1="-223.5051" x2="-213.7023" y2="-228.6927" stroke="#222" stroke-width="1.15"/>
<text transform="translate(-217.116,-232.3459) rotate(46.9407)" y="3.6" font-size="10.5" text-anchor="end" fill="#111" font-family="'Liberation Serif', 'Times New Roman', serif">100</text>
<line x1="-186.5966" y1="-242.3974" x2="-190.9275" y2="-248.0235" stroke="#222" stroke-width="1.15"/>
<text transform="translate(-193.9775,-251.9856) rotate(52.4111)" y="3.6" font-size="10.5" text-anchor="end" fill="#111" font-family="'Liberation Serif', 'Times New Roman', serif">1000</text>
<path id="lp18" d="M-257.5558 -136.9449A291.7 291.7 0 0 1 -142.3975 -254.5817" fill="none"/>
<text font-size="11.7" font-weight="bold" fill="#000" font-family="'Liberation Sans', Arial, Helvetica, sans-serif" text-anchor="middle"><textPath href="#lp18" startOffset="50%">DOID:178</textPath></text>
<path d="M-220.1335 -159.9364A272.1 272.1 0 0 1 -166.0147 -215.5865L-158.8762 -206.3165A260.4 260.4 0 0 0 -210.668 -153.0593Z" fill="#e59174"/>
<text transform="translate(-190.875,-185.6228) rotate(314.2008)" y="3.325" font-size="9.5" text-anchor="middle" fill="#333" font-family="'Liberation Sans', Arial, Helvetica, sans-serif">996</text>
<path d="M-200.798 -145.8883A248.2 248.2 0 0 1 -177.3624 -173.6255L-169.216 -165.6507A236.8 236.8 0 0 0 -191.5752 -139.1875Z" fill="#5b1959"/>
<path d="M-177.3624 -173.6255A248.2 248.2 0 0 1 -150.1305 -197.6463L-143.2349 -188.5683A236.8 236.8 0 0 0 -169.216 -165.6507Z" fill="#8489c2"/>
<text transform="translate(-173.3945,-146.5038) rotate(310.195)" y="3.5" font-size="10" text-anchor="middle" fill="#222" font-family="'Liberation Sans', Arial, Helvetica, sans-serif">33</text>
<text transform="translate(-150.1624,-170.2359) rotate(318.585)" y="3.5" font-size="10" text-anchor="middle" fill="#222" font-family="'Liberation Sans', Arial, Helvetica, sans-serif">33</text>
<path d="M-174.9904 -127.138A216.3 216.3 0 0 1 -131.1353 -172.0151L-53.3514 -69.983A88 88 0 0 0 -71.1935 -51.7251Z" fill="#efefef"/>
<path d="M-123.2133 -89.5197A152.3 152.3 0 0 1 -92.3343 -121.1184" fill="none" stroke="#c4c4c4" stroke-width="0.9"/>
<path d="M-174.9904 -127.138A216.3 216.3 0 0 1 -131.1353 -172.0151" fill="none" stroke="#c4c4c4" stroke-width="0.9"/>
<path d="M-105.1593 -76.4027A129.984 129.984 0 0 1 -78.8049 -103.3713L-53.3514 -69.983A88 88 0 0 0 -71.1935 -51.7251Z" fill="#daa52a"/>
<path d="M-179.8035 -247.4783A305.9 305.9 0 0 1 -100.7011 -288.8496L-93.9526 -269.4922A285.4 285.4 0 0 0 -167.7539 -230.8935Z" fill="#daa52a"/>
<line x1="-179.8035" y1="-247.4783" x2="-183.9768" y2="-253.2223" stroke="#222" stroke-width="1.15"/>
<text transform="translate(-186.9157,-257.2674) rotate(54)" y="3.6" font-size="10.5" text-anchor="end" fill="#111" font-family="'Liberation Serif', 'Times New Roman', serif">1</text>
<line x1="-155.3923" y1="-263.492" x2="-158.999" y2="-269.6077" stroke="#222" stroke-width="1.15"/>
<text transform="translate(-161.5389,-273.9145) rotate(59.4704)" y="3.6" font-size="10.5" text-anchor="end" fill="#111" font-family="'Liberation Serif', 'Times New Roman', serif">10</text>
<line x1="-129.5658" y1="-277.1056" x2="-132.573" y2="-283.5373" stroke="#222" stroke-width="1.15"/>
<text transform="translate(-134.6908,-288.0666) rotate(64.9407)" y="3.6" font-size="10.5" text-anchor="end" fill="#111" font-family="'Liberation Serif', 'Times New Roman', serif">100</text>
<line x1="-102.559" y1="-288.1952" x2="-104.9394" y2="-294.8843" stroke="#222" stroke-width="1.15"/>
<text transform="translate(-106.6157,-299.5949) rotate(70.4111)" y="3.6" font-size="10.5" text-anchor="end" fill="#111" font-family="'Liberation Serif', 'Times New Roman', serif">1000</text>
<path id="lp19" d="M-202.6318 -209.8314A291.7 291.7 0 0 1 -56.758 -286.1248" fill="none"/>
<text font-size="11.7" font-weight="bold" fill="#000" font-family="'Liberation Sans', Arial, Helvetica, sans-serif" text-anchor="middle"><textPath href="#lp19" startOffset="50%">DOID:1287</textPath></text>
<path d="M-159.9364 -220.1335A272.1 272.1 0 0 1 -89.5743 -256.9336L-85.7227 -245.8857A260.4 260.4 0 0 0 -153.0593 -210.668Z" fill="#e59174"/>
<text transform="translate(-123.3937,-235.9302) rotate(332.39)" y="3.325" font-size="9.5" text-anchor="middle" fill="#333" font-family="'Liberation Sans', Arial, Helvetica, sans-serif">1168</text>
<path d="M-145.8883 -200.798A248.2 248.2 0 0 1 -117.1145 -218.832L-111.7354 -208.7809A236.8 236.8 0 0 0 -139.1875 -191.5752Z" fill="#5b1959"/>
<path d="M-117.1145 -218.832A248.2 248.2 0 0 1 -81.7065 -234.3657L-77.9537 -223.6011A236.8 236.8 0 0 0 -111.7354 -208.7809Z" fill="#8489c2"/>
<text transform="translate(-120.5516,-192.3442) rotate(327.9226)" y="3.5" font-size="10" text-anchor="middle" fill="#222" font-family="'Liberation Sans', Arial, Helvetica, sans-serif">36</text>
<text transform="translate(-91.1964,-207.8755) rotate(336.3126)" y="3.5" font-size="10" text-anchor="middle" fill="#222" font-family="'Liberation Sans', Arial, Helvetica, sans-serif">41</text>
<path d="M-127.138 -174.9904A216.3 216.3 0 0 1 -71.5615 -204.1192L-29.1143 -83.0443A88 88 0 0 0 -51.7251 -71.1935Z" fill="#efefef"/>
<path d="M-89.5197 -123.2133A152.3 152.3 0 0 1 -50.3875 -143.7233" fill="none" stroke="#c4c4c4" stroke-width="0.9"/>
<path d="M-127.138 -174.9904A216.3 216.3 0 0 1 -71.5615 -204.1192" fill="none" stroke="#c4c4c4" stroke-width="0.9"/>
<path d="M-75.8008 -104.3308A128.96 128.96 0 0 1 -42.6656 -121.6977L-29.1143 -83.0443A88 88 0 0 0 -51.7251 -71.1935Z" fill="#daa52a"/>
<path d="M-94.5283 -290.9282A305.9 305.9 0 0 1 -6.513 -305.8307L-6.0766 -285.3353A285.4 285.4 0 0 0 -88.1935 -271.4315Z" fill="#daa52a"/>
<line x1="-94.5283" y1="-290.9282" x2="-96.7223" y2="-297.6807" stroke="#222" stroke-width="1.15"/>
<text transform="translate(-98.2674,-302.436) rotate(72)" y="3.6" font-size="10.5" text-anchor="end" fill="#111" font-family="'Liberation Serif', 'Times New Roman', serif">1</text>
<line x1="-66.3634" y1="-298.6147" x2="-67.9037" y2="-305.5456" stroke="#222" stroke-width="1.15"/>
<text transform="translate(-68.9884,-310.4265) rotate(77.4704)" y="3.6" font-size="10.5" text-anchor="end" fill="#111" font-family="'Liberation Serif', 'Times New Roman', serif">10</text>
<line x1="-37.594" y1="-303.5811" x2="-38.4666" y2="-310.6273" stroke="#222" stroke-width="1.15"/>
<text transform="translate(-39.0811,-315.5894) rotate(82.9407)" y="3.6" font-size="10.5" text-anchor="end" fill="#111" font-family="'Liberation Serif', 'Times New Roman', serif">100</text>
<line x1="-8.4822" y1="-305.7824" x2="-8.6791" y2="-312.8796" stroke="#222" stroke-width="1.15"/>
<text transform="translate(-8.8177,-317.8777) rotate(88.4111)" y="3.6" font-size="10.5" text-anchor="end" fill="#111" font-family="'Liberation Serif', 'Times New Roman', serif">1000</text>
<path id="lp20" d="M-127.8729 -262.1782A291.7 291.7 0 0 1 34.4373 -289.6601" fill="none"/>
<text font-size="11.7" font-weight="bold" fill="#000" font-family="'Liberation Sans', Arial, Helvetica, sans-serif" text-anchor="middle"><textPath href="#lp20" startOffset="50%">DOID:17</textPath></text>
<path d="M-84.0835 -258.7825A272.1 272.1 0 0 1 -7.377 -272L-7.0598 -260.3043A260.4 260.4 0 0 0 -80.468 -247.6551Z" fill="#e59174"/>
<text transform="translate(-45.212,-262.3832) rotate(350.2232)" y="3.325" font-size="9.5" text-anchor="middle" fill="#333" font-family="'Liberation Sans', Arial, Helvetica, sans-serif">1015</text>
<path d="M-76.698 -236.0522A248.2 248.2 0 0 1 -39.1933 -245.0859L-37.3932 -233.829A236.8 236.8 0 0 0 -73.1752 -225.2102Z" fill="#5b1959"/>
<path d="M-39.1933 -245.0859A248.2 248.2 0 0 1 -5.2845 -248.1437L-5.0418 -236.7463A236.8 236.8 0 0 0 -37.3932 -233.829Z" fill="#8489c2"/>
<text transform="translate(-53.157,-220.6883) rotate(346.4572)" y="3.5" font-size="10" text-anchor="middle" fill="#222" font-family="'Liberation Sans', Arial, Helvetica, sans-serif">34</text>
<text transform="translate(-20.3874,-226.0826) rotate(354.8472)" y="3.5" font-size="10" text-anchor="middle" fill="#222" font-family="'Liberation Sans', Arial, Helvetica, sans-serif">30</text>
<path d="M-66.8404 -205.7135A216.3 216.3 0 0 1 -4.9828 -216.2426L-2.0272 -87.9766A88 88 0 0 0 -27.1935 -83.693Z" fill="#efefef"/>
<path d="M-47.0633 -144.8459A152.3 152.3 0 0 1 -3.5084 -152.2596" fill="none" stroke="#c4c4c4" stroke-width="0.9"/>
<path d="M-66.8404 -205.7135A216.3 216.3 0 0 1 -4.9828 -216.2426" fill="none" stroke="#c4c4c4" stroke-width="0.9"/>
<path d="M-39.9695 -123.0135A129.344 129.344 0 0 1 -2.9796 -129.3097L-2.0272 -87.9766A88 88 0 0 0 -27.1935 -83.693Z" fill="#daa52a"/>
<rect x="-67.2" y="-41.8" width="37.5" height="12.1" fill="#a0a0a0"/>
<text x="-48.4" y="-32.4" font-size="9.4" text-anchor="middle" fill="#222" font-family="'Liberation Sans', Arial, Helvetica, sans-serif">100</text>
<rect x="-67.2" y="-17.9" width="37.5" height="12.0" fill="#5b1959"/>
<rect x="-67.2" y="5.8" width="37.5" height="12.0" fill="#8489c2"/>
<path d="M-67.2 30.5L-30.3 25.9L-30.3 44.9L-67.2 41.2Z" fill="#a0a0a0"/>
<text x="-24.6" y="-31" font-size="11.8" fill="#222" font-family="'Liberation Sans', Arial, Helvetica, sans-serif">Number of Genes</text>
<text x="-24.6" y="-7.5" font-size="11.8" fill="#222" font-family="'Liberation Sans', Arial, Helvetica, sans-serif">Up-regulated</text>
<text x="-24.6" y="16.3" font-size="11.8" fill="#222" font-family="'Liberation Sans', Arial, Helvetica, sans-serif">Down-regulated</text>
<text x="-24.6" y="39.5" font-size="11.8" fill="#222" font-family="'Liberation Sans', Arial, Helvetica, sans-serif">Rich Factor(0~1)</text>
</g>
<text transform="translate(842.8,870.4) scale(1.1345,1)" font-size="11.8" text-anchor="start" fill="#222" font-family="'Liberation Sans', Arial, Helvetica, sans-serif">-log10(Qvalue)</text>
<ellipse cx="853.4" cy="887.7" rx="10.0" ry="8.7" fill="#f8e3d9"/>
<text transform="translate(869.4,891.5) scale(1.1345,1)" font-size="10" text-anchor="start" fill="#222" font-family="'Liberation Sans', Arial, Helvetica, sans-serif">(0,1.3]</text>
<ellipse cx="853.4" cy="911.4" rx="10.0" ry="8.7" fill="#edb89e"/>
<text transform="translate(869.4,915.2) scale(1.1345,1)" font-size="10" text-anchor="start" fill="#222" font-family="'Liberation Sans', Arial, Helvetica, sans-serif">(1.3,2]</text>
<ellipse cx="853.4" cy="935.1" rx="10.0" ry="8.7" fill="#e38e71"/>
<text transform="translate(869.4,938.9) scale(1.1345,1)" font-size="10" text-anchor="start" fill="#222" font-family="'Liberation Sans', Arial, Helvetica, sans-serif">(2,5]</text>
<ellipse cx="853.4" cy="958.8" rx="10.0" ry="8.7" fill="#dd6b4f"/>
<text transform="translate(869.4,962.6) scale(1.1345,1)" font-size="10" text-anchor="start" fill="#222" font-family="'Liberation Sans', Arial, Helvetica, sans-serif">(5,10]</text>
<ellipse cx="853.4" cy="982.5" rx="10.0" ry="8.7" fill="#d13d2f"/>
<text transform="translate(869.4,986.3) scale(1.1345,1)" font-size="10" text-anchor="start" fill="#222" font-family="'Liberation Sans', Arial, Helvetica, sans-serif">(10,15]</text>
<ellipse cx="853.4" cy="1006.2" rx="10.0" ry="8.7" fill="#a81b20"/>
<text transform="translate(869.4,1010) scale(1.1345,1)" font-size="10" text-anchor="start" fill="#222" font-family="'Liberation Sans', Arial, Helvetica, sans-serif">(15,20]</text>
<ellipse cx="853.4" cy="1029.9" rx="10.0" ry="8.7" fill="#7a0010"/>
<text transform="translate(869.4,1033.7) scale(1.1345,1)" font-size="10" text-anchor="start" fill="#222" font-family="'Liberation Sans', Arial, Helvetica, sans-serif">&gt;=20</text>
</svg></body></html>
